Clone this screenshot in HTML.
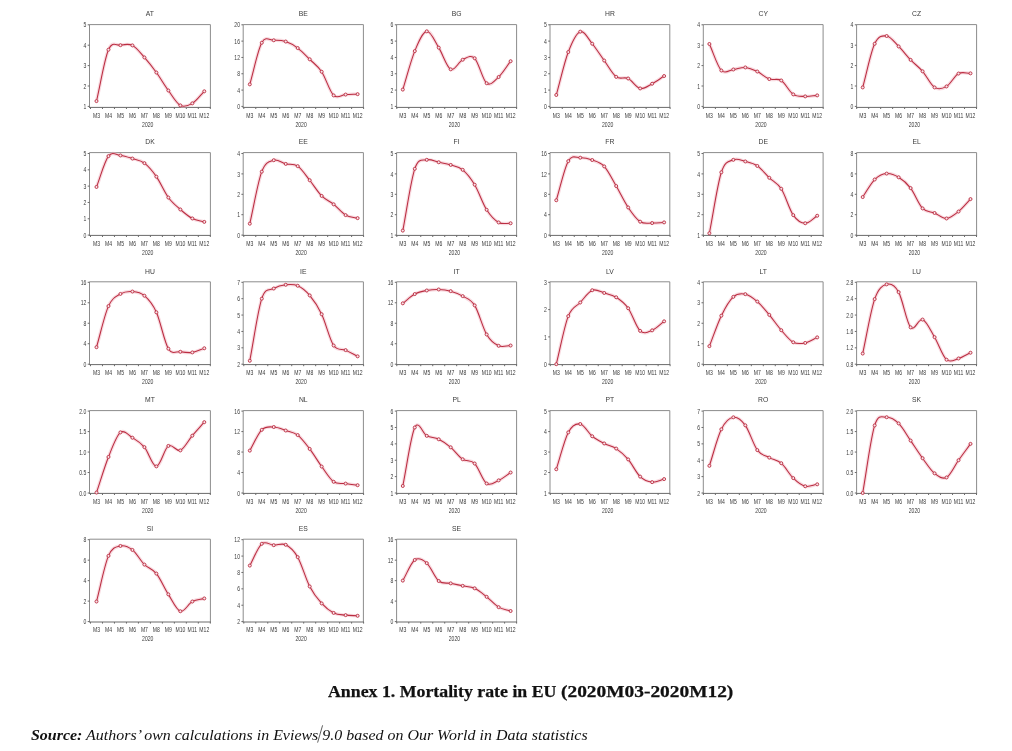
<!DOCTYPE html>
<html lang="en">
<head>
<meta charset="utf-8">
<title>Annex 1. Mortality rate in EU (2020M03-2020M12)</title>
<style>
html,body{margin:0;padding:0;background:#fff;}
body{width:1012px;height:751px;position:relative;overflow:hidden;}
svg.charts{position:absolute;left:0;top:0;filter:blur(.3px);}
svg.charts path{fill:none;stroke-width:1;}
svg.charts .halo{stroke:#f2b6c2;stroke-width:3.4;stroke-linejoin:round;stroke-linecap:round;opacity:.5;}
svg.charts .ln{stroke:#bb2e42;stroke-width:1.05;stroke-linejoin:round;stroke-linecap:round;}
svg.charts circle{fill:#f8e6ea;stroke:#bb2e42;stroke-width:.9;}
svg.charts text{font-family:"Liberation Sans",Arial,sans-serif;fill:#3a3a3a;stroke:none;}
svg.charts .t{font-size:6.8px;text-anchor:middle;stroke-width:0;}
svg.charts .yl{font-size:6.7px;text-anchor:end;}
svg.charts .xl{font-size:6.7px;text-anchor:middle;}
.cap{position:absolute;left:0;top:0;white-space:nowrap;color:#111;}
.annex{font-family:"Liberation Serif","Times New Roman",serif;font-weight:bold;font-size:16.4px;line-height:18px;top:682.8px;transform-origin:0 0;-webkit-text-stroke:.25px #111;}
#annex1{left:328.2px;transform:scaleX(1.086);}
#annex2{left:560.6px;transform:scaleX(1.183);}
#source{font-family:"Liberation Serif","Times New Roman",serif;font-style:italic;font-size:15.1px;line-height:18px;left:31px;top:726px;transform-origin:0 0;transform:scaleX(1.057);}
</style>
</head>
<body>
<svg class="charts" width="1012" height="751" viewBox="0 0 1012 751">
<g>
<path d="M89.5 24.6H210.4V107.4" stroke="#8c8c8c"/>
<path d="M89.5 24.6V107.4" stroke="#8c8c8c"/>
<path d="M89 107.4H210.9" stroke="#6a6a6a"/>
<path d="M87.7 106.4H89.5M87.7 86H89.5M87.7 65.6H89.5M87.7 45.2H89.5M87.7 24.8H89.5M90.5 107.4V109M102.48 107.4V109M114.46 107.4V109M126.44 107.4V109M138.42 107.4V109M150.4 107.4V109M162.38 107.4V109M174.36 107.4V109M186.34 107.4V109M198.32 107.4V109M210.3 107.4V109" stroke="#6a6a6a"/>
<text class="t" x="149.95" y="16.3">AT</text>
<text class="yl" transform="translate(86.3 109) scale(0.76 1)">1</text>
<text class="yl" transform="translate(86.3 88.6) scale(0.76 1)">2</text>
<text class="yl" transform="translate(86.3 68.2) scale(0.76 1)">3</text>
<text class="yl" transform="translate(86.3 47.8) scale(0.76 1)">4</text>
<text class="yl" transform="translate(86.3 27.4) scale(0.76 1)">5</text>
<text class="xl" transform="translate(96.49 117.7) scale(0.76 1)">M3</text>
<text class="xl" transform="translate(108.47 117.7) scale(0.76 1)">M4</text>
<text class="xl" transform="translate(120.45 117.7) scale(0.76 1)">M5</text>
<text class="xl" transform="translate(132.43 117.7) scale(0.76 1)">M6</text>
<text class="xl" transform="translate(144.41 117.7) scale(0.76 1)">M7</text>
<text class="xl" transform="translate(156.39 117.7) scale(0.76 1)">M8</text>
<text class="xl" transform="translate(168.37 117.7) scale(0.76 1)">M9</text>
<text class="xl" transform="translate(180.35 117.7) scale(0.76 1)">M10</text>
<text class="xl" transform="translate(192.33 117.7) scale(0.76 1)">M11</text>
<text class="xl" transform="translate(204.31 117.7) scale(0.76 1)">M12</text>
<text class="xl" transform="translate(147.75 126.5) scale(0.76 1)">2020</text>
<path class="halo" d="M96.49 101.1C100.48 83.96 104.48 59 108.47 49.69C112.46 40.37 116.46 45.91 120.45 45.2C124.44 44.49 128.44 43.36 132.43 45.4C136.42 47.44 140.42 52.92 144.41 57.44C148.4 61.96 152.4 67.03 156.39 72.54C160.38 78.04 164.38 85.01 168.37 90.49C172.36 95.96 176.36 103.24 180.35 105.38C184.34 107.52 188.34 105.69 192.33 103.34C196.32 100.99 200.32 95.32 204.31 91.3"/>
<path class="ln" d="M96.49 101.1C100.48 83.96 104.48 59 108.47 49.69C112.46 40.37 116.46 45.91 120.45 45.2C124.44 44.49 128.44 43.36 132.43 45.4C136.42 47.44 140.42 52.92 144.41 57.44C148.4 61.96 152.4 67.03 156.39 72.54C160.38 78.04 164.38 85.01 168.37 90.49C172.36 95.96 176.36 103.24 180.35 105.38C184.34 107.52 188.34 105.69 192.33 103.34C196.32 100.99 200.32 95.32 204.31 91.3"/>
<circle cx="96.49" cy="101.1" r="1.5"/>
<circle cx="108.47" cy="49.69" r="1.5"/>
<circle cx="120.45" cy="45.2" r="1.5"/>
<circle cx="132.43" cy="45.4" r="1.5"/>
<circle cx="144.41" cy="57.44" r="1.5"/>
<circle cx="156.39" cy="72.54" r="1.5"/>
<circle cx="168.37" cy="90.49" r="1.5"/>
<circle cx="180.35" cy="105.38" r="1.5"/>
<circle cx="192.33" cy="103.34" r="1.5"/>
<circle cx="204.31" cy="91.3" r="1.5"/>
</g>
<g>
<path d="M243.2 24.6H363.4V107.4" stroke="#8c8c8c"/>
<path d="M243.2 24.6V107.4" stroke="#8c8c8c"/>
<path d="M242.7 107.4H363.9" stroke="#6a6a6a"/>
<path d="M241.4 106.4H243.2M241.4 90.08H243.2M241.4 73.76H243.2M241.4 57.44H243.2M241.4 41.12H243.2M241.4 24.8H243.2M243.8 107.4V109M255.78 107.4V109M267.76 107.4V109M279.74 107.4V109M291.72 107.4V109M303.7 107.4V109M315.68 107.4V109M327.66 107.4V109M339.64 107.4V109M351.62 107.4V109M363.6 107.4V109" stroke="#6a6a6a"/>
<text class="t" x="303.3" y="16.3">BE</text>
<text class="yl" transform="translate(240 109) scale(0.76 1)">0</text>
<text class="yl" transform="translate(240 92.68) scale(0.76 1)">4</text>
<text class="yl" transform="translate(240 76.36) scale(0.76 1)">8</text>
<text class="yl" transform="translate(240 60.04) scale(0.76 1)">12</text>
<text class="yl" transform="translate(240 43.72) scale(0.76 1)">16</text>
<text class="yl" transform="translate(240 27.4) scale(0.76 1)">20</text>
<text class="xl" transform="translate(249.79 117.7) scale(0.76 1)">M3</text>
<text class="xl" transform="translate(261.77 117.7) scale(0.76 1)">M4</text>
<text class="xl" transform="translate(273.75 117.7) scale(0.76 1)">M5</text>
<text class="xl" transform="translate(285.73 117.7) scale(0.76 1)">M6</text>
<text class="xl" transform="translate(297.71 117.7) scale(0.76 1)">M7</text>
<text class="xl" transform="translate(309.69 117.7) scale(0.76 1)">M8</text>
<text class="xl" transform="translate(321.67 117.7) scale(0.76 1)">M9</text>
<text class="xl" transform="translate(333.65 117.7) scale(0.76 1)">M10</text>
<text class="xl" transform="translate(345.63 117.7) scale(0.76 1)">M11</text>
<text class="xl" transform="translate(357.61 117.7) scale(0.76 1)">M12</text>
<text class="xl" transform="translate(301.1 126.5) scale(0.76 1)">2020</text>
<path class="halo" d="M249.79 84.37C253.78 70.5 257.78 50.1 261.77 42.75C265.76 35.41 269.76 40.51 273.75 40.3C277.74 40.1 281.74 40.24 285.73 41.53C289.72 42.82 293.72 45.1 297.71 48.06C301.7 51.01 305.7 55.33 309.69 59.28C313.68 63.22 317.68 65.7 321.67 71.72C325.66 77.74 329.66 91.58 333.65 95.38C337.64 99.19 341.64 94.77 345.63 94.57C349.62 94.36 353.62 94.3 357.61 94.16"/>
<path class="ln" d="M249.79 84.37C253.78 70.5 257.78 50.1 261.77 42.75C265.76 35.41 269.76 40.51 273.75 40.3C277.74 40.1 281.74 40.24 285.73 41.53C289.72 42.82 293.72 45.1 297.71 48.06C301.7 51.01 305.7 55.33 309.69 59.28C313.68 63.22 317.68 65.7 321.67 71.72C325.66 77.74 329.66 91.58 333.65 95.38C337.64 99.19 341.64 94.77 345.63 94.57C349.62 94.36 353.62 94.3 357.61 94.16"/>
<circle cx="249.79" cy="84.37" r="1.5"/>
<circle cx="261.77" cy="42.75" r="1.5"/>
<circle cx="273.75" cy="40.3" r="1.5"/>
<circle cx="285.73" cy="41.53" r="1.5"/>
<circle cx="297.71" cy="48.06" r="1.5"/>
<circle cx="309.69" cy="59.28" r="1.5"/>
<circle cx="321.67" cy="71.72" r="1.5"/>
<circle cx="333.65" cy="95.38" r="1.5"/>
<circle cx="345.63" cy="94.57" r="1.5"/>
<circle cx="357.61" cy="94.16" r="1.5"/>
</g>
<g>
<path d="M396.6 24.6H516.6V107.4" stroke="#8c8c8c"/>
<path d="M396.6 24.6V107.4" stroke="#8c8c8c"/>
<path d="M396.1 107.4H517.1" stroke="#6a6a6a"/>
<path d="M394.8 106.4H396.6M394.8 90.08H396.6M394.8 73.76H396.6M394.8 57.44H396.6M394.8 41.12H396.6M394.8 24.8H396.6M396.8 107.4V109M408.78 107.4V109M420.76 107.4V109M432.74 107.4V109M444.72 107.4V109M456.7 107.4V109M468.68 107.4V109M480.66 107.4V109M492.64 107.4V109M504.62 107.4V109M516.6 107.4V109" stroke="#6a6a6a"/>
<text class="t" x="456.6" y="16.3">BG</text>
<text class="yl" transform="translate(393.4 109) scale(0.76 1)">1</text>
<text class="yl" transform="translate(393.4 92.68) scale(0.76 1)">2</text>
<text class="yl" transform="translate(393.4 76.36) scale(0.76 1)">3</text>
<text class="yl" transform="translate(393.4 60.04) scale(0.76 1)">4</text>
<text class="yl" transform="translate(393.4 43.72) scale(0.76 1)">5</text>
<text class="yl" transform="translate(393.4 27.4) scale(0.76 1)">6</text>
<text class="xl" transform="translate(402.79 117.7) scale(0.76 1)">M3</text>
<text class="xl" transform="translate(414.77 117.7) scale(0.76 1)">M4</text>
<text class="xl" transform="translate(426.75 117.7) scale(0.76 1)">M5</text>
<text class="xl" transform="translate(438.73 117.7) scale(0.76 1)">M6</text>
<text class="xl" transform="translate(450.71 117.7) scale(0.76 1)">M7</text>
<text class="xl" transform="translate(462.69 117.7) scale(0.76 1)">M8</text>
<text class="xl" transform="translate(474.67 117.7) scale(0.76 1)">M9</text>
<text class="xl" transform="translate(486.65 117.7) scale(0.76 1)">M10</text>
<text class="xl" transform="translate(498.63 117.7) scale(0.76 1)">M11</text>
<text class="xl" transform="translate(510.61 117.7) scale(0.76 1)">M12</text>
<text class="xl" transform="translate(454.4 126.5) scale(0.76 1)">2020</text>
<path class="halo" d="M402.79 89.59C406.78 76.75 410.78 60.79 414.77 51.08C418.76 41.36 422.76 31.9 426.75 31.33C430.74 30.76 434.74 41.31 438.73 47.65C442.72 53.99 446.72 67.34 450.71 69.35C454.7 71.37 458.7 61.57 462.69 59.72C466.68 57.88 470.68 54.34 474.67 58.26C478.66 62.17 482.66 80.1 486.65 83.23C490.64 86.35 494.64 80.7 498.63 77.02C502.62 73.35 506.62 66.47 510.61 61.19"/>
<path class="ln" d="M402.79 89.59C406.78 76.75 410.78 60.79 414.77 51.08C418.76 41.36 422.76 31.9 426.75 31.33C430.74 30.76 434.74 41.31 438.73 47.65C442.72 53.99 446.72 67.34 450.71 69.35C454.7 71.37 458.7 61.57 462.69 59.72C466.68 57.88 470.68 54.34 474.67 58.26C478.66 62.17 482.66 80.1 486.65 83.23C490.64 86.35 494.64 80.7 498.63 77.02C502.62 73.35 506.62 66.47 510.61 61.19"/>
<circle cx="402.79" cy="89.59" r="1.5"/>
<circle cx="414.77" cy="51.08" r="1.5"/>
<circle cx="426.75" cy="31.33" r="1.5"/>
<circle cx="438.73" cy="47.65" r="1.5"/>
<circle cx="450.71" cy="69.35" r="1.5"/>
<circle cx="462.69" cy="59.72" r="1.5"/>
<circle cx="474.67" cy="58.26" r="1.5"/>
<circle cx="486.65" cy="83.23" r="1.5"/>
<circle cx="498.63" cy="77.02" r="1.5"/>
<circle cx="510.61" cy="61.19" r="1.5"/>
</g>
<g>
<path d="M550 24.6H669.8V107.4" stroke="#8c8c8c"/>
<path d="M550 24.6V107.4" stroke="#8c8c8c"/>
<path d="M549.5 107.4H670.3" stroke="#6a6a6a"/>
<path d="M548.2 106.4H550M548.2 90.08H550M548.2 73.76H550M548.2 57.44H550M548.2 41.12H550M548.2 24.8H550M550.3 107.4V109M562.28 107.4V109M574.26 107.4V109M586.24 107.4V109M598.22 107.4V109M610.2 107.4V109M622.18 107.4V109M634.16 107.4V109M646.14 107.4V109M658.12 107.4V109M670.1 107.4V109" stroke="#6a6a6a"/>
<text class="t" x="609.9" y="16.3">HR</text>
<text class="yl" transform="translate(546.8 109) scale(0.76 1)">0</text>
<text class="yl" transform="translate(546.8 92.68) scale(0.76 1)">1</text>
<text class="yl" transform="translate(546.8 76.36) scale(0.76 1)">2</text>
<text class="yl" transform="translate(546.8 60.04) scale(0.76 1)">3</text>
<text class="yl" transform="translate(546.8 43.72) scale(0.76 1)">4</text>
<text class="yl" transform="translate(546.8 27.4) scale(0.76 1)">5</text>
<text class="xl" transform="translate(556.29 117.7) scale(0.76 1)">M3</text>
<text class="xl" transform="translate(568.27 117.7) scale(0.76 1)">M4</text>
<text class="xl" transform="translate(580.25 117.7) scale(0.76 1)">M5</text>
<text class="xl" transform="translate(592.23 117.7) scale(0.76 1)">M6</text>
<text class="xl" transform="translate(604.21 117.7) scale(0.76 1)">M7</text>
<text class="xl" transform="translate(616.19 117.7) scale(0.76 1)">M8</text>
<text class="xl" transform="translate(628.17 117.7) scale(0.76 1)">M9</text>
<text class="xl" transform="translate(640.15 117.7) scale(0.76 1)">M10</text>
<text class="xl" transform="translate(652.13 117.7) scale(0.76 1)">M11</text>
<text class="xl" transform="translate(664.11 117.7) scale(0.76 1)">M12</text>
<text class="xl" transform="translate(607.7 126.5) scale(0.76 1)">2020</text>
<path class="halo" d="M556.29 94.98C560.28 80.67 564.28 62.61 568.27 52.05C572.26 41.5 576.26 33.04 580.25 31.65C584.24 30.27 588.24 38.92 592.23 43.73C596.22 48.55 600.22 55.02 604.21 60.54C608.2 66.06 612.2 73.87 616.19 76.86C620.18 79.85 624.18 76.56 628.17 78.49C632.16 80.42 636.16 87.58 640.15 88.45C644.14 89.32 648.14 85.78 652.13 83.72C656.12 81.65 660.12 78.6 664.11 76.04"/>
<path class="ln" d="M556.29 94.98C560.28 80.67 564.28 62.61 568.27 52.05C572.26 41.5 576.26 33.04 580.25 31.65C584.24 30.27 588.24 38.92 592.23 43.73C596.22 48.55 600.22 55.02 604.21 60.54C608.2 66.06 612.2 73.87 616.19 76.86C620.18 79.85 624.18 76.56 628.17 78.49C632.16 80.42 636.16 87.58 640.15 88.45C644.14 89.32 648.14 85.78 652.13 83.72C656.12 81.65 660.12 78.6 664.11 76.04"/>
<circle cx="556.29" cy="94.98" r="1.5"/>
<circle cx="568.27" cy="52.05" r="1.5"/>
<circle cx="580.25" cy="31.65" r="1.5"/>
<circle cx="592.23" cy="43.73" r="1.5"/>
<circle cx="604.21" cy="60.54" r="1.5"/>
<circle cx="616.19" cy="76.86" r="1.5"/>
<circle cx="628.17" cy="78.49" r="1.5"/>
<circle cx="640.15" cy="88.45" r="1.5"/>
<circle cx="652.13" cy="83.72" r="1.5"/>
<circle cx="664.11" cy="76.04" r="1.5"/>
</g>
<g>
<path d="M703.3 24.6H823.1V107.4" stroke="#8c8c8c"/>
<path d="M703.3 24.6V107.4" stroke="#8c8c8c"/>
<path d="M702.8 107.4H823.6" stroke="#6a6a6a"/>
<path d="M701.5 106.4H703.3M701.5 86H703.3M701.5 65.6H703.3M701.5 45.2H703.3M701.5 24.8H703.3M703.4 107.4V109M715.38 107.4V109M727.36 107.4V109M739.34 107.4V109M751.32 107.4V109M763.3 107.4V109M775.28 107.4V109M787.26 107.4V109M799.24 107.4V109M811.22 107.4V109M823.2 107.4V109" stroke="#6a6a6a"/>
<text class="t" x="763.2" y="16.3">CY</text>
<text class="yl" transform="translate(700.1 109) scale(0.76 1)">0</text>
<text class="yl" transform="translate(700.1 88.6) scale(0.76 1)">1</text>
<text class="yl" transform="translate(700.1 68.2) scale(0.76 1)">2</text>
<text class="yl" transform="translate(700.1 47.8) scale(0.76 1)">3</text>
<text class="yl" transform="translate(700.1 27.4) scale(0.76 1)">4</text>
<text class="xl" transform="translate(709.39 117.7) scale(0.76 1)">M3</text>
<text class="xl" transform="translate(721.37 117.7) scale(0.76 1)">M4</text>
<text class="xl" transform="translate(733.35 117.7) scale(0.76 1)">M5</text>
<text class="xl" transform="translate(745.33 117.7) scale(0.76 1)">M6</text>
<text class="xl" transform="translate(757.31 117.7) scale(0.76 1)">M7</text>
<text class="xl" transform="translate(769.29 117.7) scale(0.76 1)">M8</text>
<text class="xl" transform="translate(781.27 117.7) scale(0.76 1)">M9</text>
<text class="xl" transform="translate(793.25 117.7) scale(0.76 1)">M10</text>
<text class="xl" transform="translate(805.23 117.7) scale(0.76 1)">M11</text>
<text class="xl" transform="translate(817.21 117.7) scale(0.76 1)">M12</text>
<text class="xl" transform="translate(761 126.5) scale(0.76 1)">2020</text>
<path class="halo" d="M709.39 43.98C713.38 52.82 717.38 66.25 721.37 70.5C725.36 74.75 729.36 69.99 733.35 69.48C737.34 68.97 741.34 67.1 745.33 67.44C749.32 67.78 753.32 69.58 757.31 71.52C761.3 73.45 765.3 77.57 769.29 79.06C773.28 80.56 777.28 77.94 781.27 80.49C785.26 83.04 789.26 91.71 793.25 94.36C797.24 97.02 801.24 96.23 805.23 96.4C809.22 96.57 813.22 95.72 817.21 95.38"/>
<path class="ln" d="M709.39 43.98C713.38 52.82 717.38 66.25 721.37 70.5C725.36 74.75 729.36 69.99 733.35 69.48C737.34 68.97 741.34 67.1 745.33 67.44C749.32 67.78 753.32 69.58 757.31 71.52C761.3 73.45 765.3 77.57 769.29 79.06C773.28 80.56 777.28 77.94 781.27 80.49C785.26 83.04 789.26 91.71 793.25 94.36C797.24 97.02 801.24 96.23 805.23 96.4C809.22 96.57 813.22 95.72 817.21 95.38"/>
<circle cx="709.39" cy="43.98" r="1.5"/>
<circle cx="721.37" cy="70.5" r="1.5"/>
<circle cx="733.35" cy="69.48" r="1.5"/>
<circle cx="745.33" cy="67.44" r="1.5"/>
<circle cx="757.31" cy="71.52" r="1.5"/>
<circle cx="769.29" cy="79.06" r="1.5"/>
<circle cx="781.27" cy="80.49" r="1.5"/>
<circle cx="793.25" cy="94.36" r="1.5"/>
<circle cx="805.23" cy="96.4" r="1.5"/>
<circle cx="817.21" cy="95.38" r="1.5"/>
</g>
<g>
<path d="M856.6 24.6H976.6V107.4" stroke="#8c8c8c"/>
<path d="M856.6 24.6V107.4" stroke="#8c8c8c"/>
<path d="M856.1 107.4H977.1" stroke="#6a6a6a"/>
<path d="M854.8 106.4H856.6M854.8 86H856.6M854.8 65.6H856.6M854.8 45.2H856.6M854.8 24.8H856.6M856.7 107.4V109M868.68 107.4V109M880.66 107.4V109M892.64 107.4V109M904.62 107.4V109M916.6 107.4V109M928.58 107.4V109M940.56 107.4V109M952.54 107.4V109M964.52 107.4V109M976.5 107.4V109" stroke="#6a6a6a"/>
<text class="t" x="916.6" y="16.3">CZ</text>
<text class="yl" transform="translate(853.4 109) scale(0.76 1)">0</text>
<text class="yl" transform="translate(853.4 88.6) scale(0.76 1)">1</text>
<text class="yl" transform="translate(853.4 68.2) scale(0.76 1)">2</text>
<text class="yl" transform="translate(853.4 47.8) scale(0.76 1)">3</text>
<text class="yl" transform="translate(853.4 27.4) scale(0.76 1)">4</text>
<text class="xl" transform="translate(862.69 117.7) scale(0.76 1)">M3</text>
<text class="xl" transform="translate(874.67 117.7) scale(0.76 1)">M4</text>
<text class="xl" transform="translate(886.65 117.7) scale(0.76 1)">M5</text>
<text class="xl" transform="translate(898.63 117.7) scale(0.76 1)">M6</text>
<text class="xl" transform="translate(910.61 117.7) scale(0.76 1)">M7</text>
<text class="xl" transform="translate(922.59 117.7) scale(0.76 1)">M8</text>
<text class="xl" transform="translate(934.57 117.7) scale(0.76 1)">M9</text>
<text class="xl" transform="translate(946.55 117.7) scale(0.76 1)">M10</text>
<text class="xl" transform="translate(958.53 117.7) scale(0.76 1)">M11</text>
<text class="xl" transform="translate(970.51 117.7) scale(0.76 1)">M12</text>
<text class="xl" transform="translate(914.4 126.5) scale(0.76 1)">2020</text>
<path class="halo" d="M862.69 87.43C866.68 72.88 870.68 52.34 874.67 43.77C878.66 35.2 882.66 35.58 886.65 36.02C890.64 36.46 894.64 42.45 898.63 46.42C902.62 50.4 906.62 55.74 910.61 59.89C914.6 64.04 918.6 66.72 922.59 71.31C926.58 75.9 930.58 84.91 934.57 87.43C938.56 89.94 942.56 88.72 946.55 86.41C950.54 84.1 954.54 75.73 958.53 73.56C962.52 71.38 966.52 73.42 970.51 73.35"/>
<path class="ln" d="M862.69 87.43C866.68 72.88 870.68 52.34 874.67 43.77C878.66 35.2 882.66 35.58 886.65 36.02C890.64 36.46 894.64 42.45 898.63 46.42C902.62 50.4 906.62 55.74 910.61 59.89C914.6 64.04 918.6 66.72 922.59 71.31C926.58 75.9 930.58 84.91 934.57 87.43C938.56 89.94 942.56 88.72 946.55 86.41C950.54 84.1 954.54 75.73 958.53 73.56C962.52 71.38 966.52 73.42 970.51 73.35"/>
<circle cx="862.69" cy="87.43" r="1.5"/>
<circle cx="874.67" cy="43.77" r="1.5"/>
<circle cx="886.65" cy="36.02" r="1.5"/>
<circle cx="898.63" cy="46.42" r="1.5"/>
<circle cx="910.61" cy="59.89" r="1.5"/>
<circle cx="922.59" cy="71.31" r="1.5"/>
<circle cx="934.57" cy="87.43" r="1.5"/>
<circle cx="946.55" cy="86.41" r="1.5"/>
<circle cx="958.53" cy="73.56" r="1.5"/>
<circle cx="970.51" cy="73.35" r="1.5"/>
</g>
<g>
<path d="M89.5 152.6H210.4V235.4" stroke="#8c8c8c"/>
<path d="M89.5 152.6V235.4" stroke="#8c8c8c"/>
<path d="M89 235.4H210.9" stroke="#6a6a6a"/>
<path d="M87.7 235.1H89.5M87.7 218.78H89.5M87.7 202.46H89.5M87.7 186.14H89.5M87.7 169.82H89.5M87.7 153.5H89.5M90.5 235.4V237M102.48 235.4V237M114.46 235.4V237M126.44 235.4V237M138.42 235.4V237M150.4 235.4V237M162.38 235.4V237M174.36 235.4V237M186.34 235.4V237M198.32 235.4V237M210.3 235.4V237" stroke="#6a6a6a"/>
<text class="t" x="149.95" y="144.3">DK</text>
<text class="yl" transform="translate(86.3 237.7) scale(0.76 1)">0</text>
<text class="yl" transform="translate(86.3 221.38) scale(0.76 1)">1</text>
<text class="yl" transform="translate(86.3 205.06) scale(0.76 1)">2</text>
<text class="yl" transform="translate(86.3 188.74) scale(0.76 1)">3</text>
<text class="yl" transform="translate(86.3 172.42) scale(0.76 1)">4</text>
<text class="yl" transform="translate(86.3 156.1) scale(0.76 1)">5</text>
<text class="xl" transform="translate(96.49 245.7) scale(0.76 1)">M3</text>
<text class="xl" transform="translate(108.47 245.7) scale(0.76 1)">M4</text>
<text class="xl" transform="translate(120.45 245.7) scale(0.76 1)">M5</text>
<text class="xl" transform="translate(132.43 245.7) scale(0.76 1)">M6</text>
<text class="xl" transform="translate(144.41 245.7) scale(0.76 1)">M7</text>
<text class="xl" transform="translate(156.39 245.7) scale(0.76 1)">M8</text>
<text class="xl" transform="translate(168.37 245.7) scale(0.76 1)">M9</text>
<text class="xl" transform="translate(180.35 245.7) scale(0.76 1)">M10</text>
<text class="xl" transform="translate(192.33 245.7) scale(0.76 1)">M11</text>
<text class="xl" transform="translate(204.31 245.7) scale(0.76 1)">M12</text>
<text class="xl" transform="translate(147.75 254.5) scale(0.76 1)">2020</text>
<path class="halo" d="M96.49 186.96C100.48 176.67 104.48 161.36 108.47 156.11C112.46 150.86 116.46 155.05 120.45 155.46C124.44 155.87 128.44 157.28 132.43 158.56C136.42 159.84 140.42 160.11 144.41 163.13C148.4 166.15 152.4 170.94 156.39 176.67C160.38 182.41 164.38 192.1 168.37 197.56C172.36 203.03 176.36 206 180.35 209.48C184.34 212.96 188.34 216.39 192.33 218.45C196.32 220.52 200.32 220.74 204.31 221.88"/>
<path class="ln" d="M96.49 186.96C100.48 176.67 104.48 161.36 108.47 156.11C112.46 150.86 116.46 155.05 120.45 155.46C124.44 155.87 128.44 157.28 132.43 158.56C136.42 159.84 140.42 160.11 144.41 163.13C148.4 166.15 152.4 170.94 156.39 176.67C160.38 182.41 164.38 192.1 168.37 197.56C172.36 203.03 176.36 206 180.35 209.48C184.34 212.96 188.34 216.39 192.33 218.45C196.32 220.52 200.32 220.74 204.31 221.88"/>
<circle cx="96.49" cy="186.96" r="1.5"/>
<circle cx="108.47" cy="156.11" r="1.5"/>
<circle cx="120.45" cy="155.46" r="1.5"/>
<circle cx="132.43" cy="158.56" r="1.5"/>
<circle cx="144.41" cy="163.13" r="1.5"/>
<circle cx="156.39" cy="176.67" r="1.5"/>
<circle cx="168.37" cy="197.56" r="1.5"/>
<circle cx="180.35" cy="209.48" r="1.5"/>
<circle cx="192.33" cy="218.45" r="1.5"/>
<circle cx="204.31" cy="221.88" r="1.5"/>
</g>
<g>
<path d="M243.2 152.6H363.4V235.4" stroke="#8c8c8c"/>
<path d="M243.2 152.6V235.4" stroke="#8c8c8c"/>
<path d="M242.7 235.4H363.9" stroke="#6a6a6a"/>
<path d="M241.4 235.1H243.2M241.4 214.7H243.2M241.4 194.3H243.2M241.4 173.9H243.2M241.4 153.5H243.2M243.8 235.4V237M255.78 235.4V237M267.76 235.4V237M279.74 235.4V237M291.72 235.4V237M303.7 235.4V237M315.68 235.4V237M327.66 235.4V237M339.64 235.4V237M351.62 235.4V237M363.6 235.4V237" stroke="#6a6a6a"/>
<text class="t" x="303.3" y="144.3">EE</text>
<text class="yl" transform="translate(240 237.7) scale(0.76 1)">0</text>
<text class="yl" transform="translate(240 217.3) scale(0.76 1)">1</text>
<text class="yl" transform="translate(240 196.9) scale(0.76 1)">2</text>
<text class="yl" transform="translate(240 176.5) scale(0.76 1)">3</text>
<text class="yl" transform="translate(240 156.1) scale(0.76 1)">4</text>
<text class="xl" transform="translate(249.79 245.7) scale(0.76 1)">M3</text>
<text class="xl" transform="translate(261.77 245.7) scale(0.76 1)">M4</text>
<text class="xl" transform="translate(273.75 245.7) scale(0.76 1)">M5</text>
<text class="xl" transform="translate(285.73 245.7) scale(0.76 1)">M6</text>
<text class="xl" transform="translate(297.71 245.7) scale(0.76 1)">M7</text>
<text class="xl" transform="translate(309.69 245.7) scale(0.76 1)">M8</text>
<text class="xl" transform="translate(321.67 245.7) scale(0.76 1)">M9</text>
<text class="xl" transform="translate(333.65 245.7) scale(0.76 1)">M10</text>
<text class="xl" transform="translate(345.63 245.7) scale(0.76 1)">M11</text>
<text class="xl" transform="translate(357.61 245.7) scale(0.76 1)">M12</text>
<text class="xl" transform="translate(301.1 254.5) scale(0.76 1)">2020</text>
<path class="halo" d="M249.79 223.68C253.78 206.34 257.78 182.23 261.77 171.66C265.76 161.08 269.76 161.52 273.75 160.23C277.74 158.94 281.74 162.92 285.73 163.9C289.72 164.89 293.72 163.43 297.71 166.15C301.7 168.87 305.7 175.26 309.69 180.22C313.68 185.19 317.68 191.92 321.67 195.93C325.66 199.94 329.66 201.1 333.65 204.3C337.64 207.49 341.64 212.8 345.63 215.11C349.62 217.42 353.62 217.15 357.61 218.17"/>
<path class="ln" d="M249.79 223.68C253.78 206.34 257.78 182.23 261.77 171.66C265.76 161.08 269.76 161.52 273.75 160.23C277.74 158.94 281.74 162.92 285.73 163.9C289.72 164.89 293.72 163.43 297.71 166.15C301.7 168.87 305.7 175.26 309.69 180.22C313.68 185.19 317.68 191.92 321.67 195.93C325.66 199.94 329.66 201.1 333.65 204.3C337.64 207.49 341.64 212.8 345.63 215.11C349.62 217.42 353.62 217.15 357.61 218.17"/>
<circle cx="249.79" cy="223.68" r="1.5"/>
<circle cx="261.77" cy="171.66" r="1.5"/>
<circle cx="273.75" cy="160.23" r="1.5"/>
<circle cx="285.73" cy="163.9" r="1.5"/>
<circle cx="297.71" cy="166.15" r="1.5"/>
<circle cx="309.69" cy="180.22" r="1.5"/>
<circle cx="321.67" cy="195.93" r="1.5"/>
<circle cx="333.65" cy="204.3" r="1.5"/>
<circle cx="345.63" cy="215.11" r="1.5"/>
<circle cx="357.61" cy="218.17" r="1.5"/>
</g>
<g>
<path d="M396.6 152.6H516.6V235.4" stroke="#8c8c8c"/>
<path d="M396.6 152.6V235.4" stroke="#8c8c8c"/>
<path d="M396.1 235.4H517.1" stroke="#6a6a6a"/>
<path d="M394.8 235.1H396.6M394.8 214.7H396.6M394.8 194.3H396.6M394.8 173.9H396.6M394.8 153.5H396.6M396.8 235.4V237M408.78 235.4V237M420.76 235.4V237M432.74 235.4V237M444.72 235.4V237M456.7 235.4V237M468.68 235.4V237M480.66 235.4V237M492.64 235.4V237M504.62 235.4V237M516.6 235.4V237" stroke="#6a6a6a"/>
<text class="t" x="456.6" y="144.3">FI</text>
<text class="yl" transform="translate(393.4 237.7) scale(0.76 1)">1</text>
<text class="yl" transform="translate(393.4 217.3) scale(0.76 1)">2</text>
<text class="yl" transform="translate(393.4 196.9) scale(0.76 1)">3</text>
<text class="yl" transform="translate(393.4 176.5) scale(0.76 1)">4</text>
<text class="yl" transform="translate(393.4 156.1) scale(0.76 1)">5</text>
<text class="xl" transform="translate(402.79 245.7) scale(0.76 1)">M3</text>
<text class="xl" transform="translate(414.77 245.7) scale(0.76 1)">M4</text>
<text class="xl" transform="translate(426.75 245.7) scale(0.76 1)">M5</text>
<text class="xl" transform="translate(438.73 245.7) scale(0.76 1)">M6</text>
<text class="xl" transform="translate(450.71 245.7) scale(0.76 1)">M7</text>
<text class="xl" transform="translate(462.69 245.7) scale(0.76 1)">M8</text>
<text class="xl" transform="translate(474.67 245.7) scale(0.76 1)">M9</text>
<text class="xl" transform="translate(486.65 245.7) scale(0.76 1)">M10</text>
<text class="xl" transform="translate(498.63 245.7) scale(0.76 1)">M11</text>
<text class="xl" transform="translate(510.61 245.7) scale(0.76 1)">M12</text>
<text class="xl" transform="translate(454.4 254.5) scale(0.76 1)">2020</text>
<path class="halo" d="M402.79 230.61C406.78 210.01 410.78 180.6 414.77 168.8C418.76 157 422.76 160.91 426.75 159.82C430.74 158.74 434.74 161.42 438.73 162.27C442.72 163.12 446.72 163.67 450.71 164.92C454.7 166.18 458.7 166.52 462.69 169.82C466.68 173.12 470.68 178.05 474.67 184.71C478.66 191.38 482.66 203.51 486.65 209.8C490.64 216.09 494.64 220.21 498.63 222.45C502.62 224.7 506.62 223 510.61 223.27"/>
<path class="ln" d="M402.79 230.61C406.78 210.01 410.78 180.6 414.77 168.8C418.76 157 422.76 160.91 426.75 159.82C430.74 158.74 434.74 161.42 438.73 162.27C442.72 163.12 446.72 163.67 450.71 164.92C454.7 166.18 458.7 166.52 462.69 169.82C466.68 173.12 470.68 178.05 474.67 184.71C478.66 191.38 482.66 203.51 486.65 209.8C490.64 216.09 494.64 220.21 498.63 222.45C502.62 224.7 506.62 223 510.61 223.27"/>
<circle cx="402.79" cy="230.61" r="1.5"/>
<circle cx="414.77" cy="168.8" r="1.5"/>
<circle cx="426.75" cy="159.82" r="1.5"/>
<circle cx="438.73" cy="162.27" r="1.5"/>
<circle cx="450.71" cy="164.92" r="1.5"/>
<circle cx="462.69" cy="169.82" r="1.5"/>
<circle cx="474.67" cy="184.71" r="1.5"/>
<circle cx="486.65" cy="209.8" r="1.5"/>
<circle cx="498.63" cy="222.45" r="1.5"/>
<circle cx="510.61" cy="223.27" r="1.5"/>
</g>
<g>
<path d="M550 152.6H669.8V235.4" stroke="#8c8c8c"/>
<path d="M550 152.6V235.4" stroke="#8c8c8c"/>
<path d="M549.5 235.4H670.3" stroke="#6a6a6a"/>
<path d="M548.2 235.1H550M548.2 214.7H550M548.2 194.3H550M548.2 173.9H550M548.2 153.5H550M550.3 235.4V237M562.28 235.4V237M574.26 235.4V237M586.24 235.4V237M598.22 235.4V237M610.2 235.4V237M622.18 235.4V237M634.16 235.4V237M646.14 235.4V237M658.12 235.4V237M670.1 235.4V237" stroke="#6a6a6a"/>
<text class="t" x="609.9" y="144.3">FR</text>
<text class="yl" transform="translate(546.8 237.7) scale(0.76 1)">0</text>
<text class="yl" transform="translate(546.8 217.3) scale(0.76 1)">4</text>
<text class="yl" transform="translate(546.8 196.9) scale(0.76 1)">8</text>
<text class="yl" transform="translate(546.8 176.5) scale(0.76 1)">12</text>
<text class="yl" transform="translate(546.8 156.1) scale(0.76 1)">16</text>
<text class="xl" transform="translate(556.29 245.7) scale(0.76 1)">M3</text>
<text class="xl" transform="translate(568.27 245.7) scale(0.76 1)">M4</text>
<text class="xl" transform="translate(580.25 245.7) scale(0.76 1)">M5</text>
<text class="xl" transform="translate(592.23 245.7) scale(0.76 1)">M6</text>
<text class="xl" transform="translate(604.21 245.7) scale(0.76 1)">M7</text>
<text class="xl" transform="translate(616.19 245.7) scale(0.76 1)">M8</text>
<text class="xl" transform="translate(628.17 245.7) scale(0.76 1)">M9</text>
<text class="xl" transform="translate(640.15 245.7) scale(0.76 1)">M10</text>
<text class="xl" transform="translate(652.13 245.7) scale(0.76 1)">M11</text>
<text class="xl" transform="translate(664.11 245.7) scale(0.76 1)">M12</text>
<text class="xl" transform="translate(607.7 254.5) scale(0.76 1)">2020</text>
<path class="halo" d="M556.29 200.27C560.28 187.23 564.28 168.25 568.27 161.15C572.26 154.05 576.26 157.87 580.25 157.68C584.24 157.49 588.24 158.57 592.23 160.03C596.22 161.48 600.22 162.07 604.21 166.4C608.2 170.74 612.2 179.2 616.19 186.04C620.18 192.88 624.18 201.52 628.17 207.46C632.16 213.4 636.16 219.09 640.15 221.69C644.14 224.29 648.14 222.94 652.13 223.06C656.12 223.18 660.12 222.62 664.11 222.4"/>
<path class="ln" d="M556.29 200.27C560.28 187.23 564.28 168.25 568.27 161.15C572.26 154.05 576.26 157.87 580.25 157.68C584.24 157.49 588.24 158.57 592.23 160.03C596.22 161.48 600.22 162.07 604.21 166.4C608.2 170.74 612.2 179.2 616.19 186.04C620.18 192.88 624.18 201.52 628.17 207.46C632.16 213.4 636.16 219.09 640.15 221.69C644.14 224.29 648.14 222.94 652.13 223.06C656.12 223.18 660.12 222.62 664.11 222.4"/>
<circle cx="556.29" cy="200.27" r="1.5"/>
<circle cx="568.27" cy="161.15" r="1.5"/>
<circle cx="580.25" cy="157.68" r="1.5"/>
<circle cx="592.23" cy="160.03" r="1.5"/>
<circle cx="604.21" cy="166.4" r="1.5"/>
<circle cx="616.19" cy="186.04" r="1.5"/>
<circle cx="628.17" cy="207.46" r="1.5"/>
<circle cx="640.15" cy="221.69" r="1.5"/>
<circle cx="652.13" cy="223.06" r="1.5"/>
<circle cx="664.11" cy="222.4" r="1.5"/>
</g>
<g>
<path d="M703.3 152.6H823.1V235.4" stroke="#8c8c8c"/>
<path d="M703.3 152.6V235.4" stroke="#8c8c8c"/>
<path d="M702.8 235.4H823.6" stroke="#6a6a6a"/>
<path d="M701.5 235.1H703.3M701.5 214.7H703.3M701.5 194.3H703.3M701.5 173.9H703.3M701.5 153.5H703.3M703.4 235.4V237M715.38 235.4V237M727.36 235.4V237M739.34 235.4V237M751.32 235.4V237M763.3 235.4V237M775.28 235.4V237M787.26 235.4V237M799.24 235.4V237M811.22 235.4V237M823.2 235.4V237" stroke="#6a6a6a"/>
<text class="t" x="763.2" y="144.3">DE</text>
<text class="yl" transform="translate(700.1 237.7) scale(0.76 1)">1</text>
<text class="yl" transform="translate(700.1 217.3) scale(0.76 1)">2</text>
<text class="yl" transform="translate(700.1 196.9) scale(0.76 1)">3</text>
<text class="yl" transform="translate(700.1 176.5) scale(0.76 1)">4</text>
<text class="yl" transform="translate(700.1 156.1) scale(0.76 1)">5</text>
<text class="xl" transform="translate(709.39 245.7) scale(0.76 1)">M3</text>
<text class="xl" transform="translate(721.37 245.7) scale(0.76 1)">M4</text>
<text class="xl" transform="translate(733.35 245.7) scale(0.76 1)">M5</text>
<text class="xl" transform="translate(745.33 245.7) scale(0.76 1)">M6</text>
<text class="xl" transform="translate(757.31 245.7) scale(0.76 1)">M7</text>
<text class="xl" transform="translate(769.29 245.7) scale(0.76 1)">M8</text>
<text class="xl" transform="translate(781.27 245.7) scale(0.76 1)">M9</text>
<text class="xl" transform="translate(793.25 245.7) scale(0.76 1)">M10</text>
<text class="xl" transform="translate(805.23 245.7) scale(0.76 1)">M11</text>
<text class="xl" transform="translate(817.21 245.7) scale(0.76 1)">M12</text>
<text class="xl" transform="translate(761 254.5) scale(0.76 1)">2020</text>
<path class="halo" d="M709.39 233.26C713.38 212.93 717.38 184.51 721.37 172.27C725.36 160.03 729.36 161.63 733.35 159.82C737.34 158.02 741.34 160.44 745.33 161.46C749.32 162.48 753.32 163.22 757.31 165.94C761.3 168.66 765.3 173.97 769.29 177.78C773.28 181.58 777.28 182.57 781.27 188.79C785.26 195.01 789.26 209.36 793.25 215.11C797.24 220.85 801.24 223.17 805.23 223.27C809.22 223.37 813.22 218.24 817.21 215.72"/>
<path class="ln" d="M709.39 233.26C713.38 212.93 717.38 184.51 721.37 172.27C725.36 160.03 729.36 161.63 733.35 159.82C737.34 158.02 741.34 160.44 745.33 161.46C749.32 162.48 753.32 163.22 757.31 165.94C761.3 168.66 765.3 173.97 769.29 177.78C773.28 181.58 777.28 182.57 781.27 188.79C785.26 195.01 789.26 209.36 793.25 215.11C797.24 220.85 801.24 223.17 805.23 223.27C809.22 223.37 813.22 218.24 817.21 215.72"/>
<circle cx="709.39" cy="233.26" r="1.5"/>
<circle cx="721.37" cy="172.27" r="1.5"/>
<circle cx="733.35" cy="159.82" r="1.5"/>
<circle cx="745.33" cy="161.46" r="1.5"/>
<circle cx="757.31" cy="165.94" r="1.5"/>
<circle cx="769.29" cy="177.78" r="1.5"/>
<circle cx="781.27" cy="188.79" r="1.5"/>
<circle cx="793.25" cy="215.11" r="1.5"/>
<circle cx="805.23" cy="223.27" r="1.5"/>
<circle cx="817.21" cy="215.72" r="1.5"/>
</g>
<g>
<path d="M856.6 152.6H976.6V235.4" stroke="#8c8c8c"/>
<path d="M856.6 152.6V235.4" stroke="#8c8c8c"/>
<path d="M856.1 235.4H977.1" stroke="#6a6a6a"/>
<path d="M854.8 235.1H856.6M854.8 214.7H856.6M854.8 194.3H856.6M854.8 173.9H856.6M854.8 153.5H856.6M856.7 235.4V237M868.68 235.4V237M880.66 235.4V237M892.64 235.4V237M904.62 235.4V237M916.6 235.4V237M928.58 235.4V237M940.56 235.4V237M952.54 235.4V237M964.52 235.4V237M976.5 235.4V237" stroke="#6a6a6a"/>
<text class="t" x="916.6" y="144.3">EL</text>
<text class="yl" transform="translate(853.4 237.7) scale(0.76 1)">0</text>
<text class="yl" transform="translate(853.4 217.3) scale(0.76 1)">2</text>
<text class="yl" transform="translate(853.4 196.9) scale(0.76 1)">4</text>
<text class="yl" transform="translate(853.4 176.5) scale(0.76 1)">6</text>
<text class="yl" transform="translate(853.4 156.1) scale(0.76 1)">8</text>
<text class="xl" transform="translate(862.69 245.7) scale(0.76 1)">M3</text>
<text class="xl" transform="translate(874.67 245.7) scale(0.76 1)">M4</text>
<text class="xl" transform="translate(886.65 245.7) scale(0.76 1)">M5</text>
<text class="xl" transform="translate(898.63 245.7) scale(0.76 1)">M6</text>
<text class="xl" transform="translate(910.61 245.7) scale(0.76 1)">M7</text>
<text class="xl" transform="translate(922.59 245.7) scale(0.76 1)">M8</text>
<text class="xl" transform="translate(934.57 245.7) scale(0.76 1)">M9</text>
<text class="xl" transform="translate(946.55 245.7) scale(0.76 1)">M10</text>
<text class="xl" transform="translate(958.53 245.7) scale(0.76 1)">M11</text>
<text class="xl" transform="translate(970.51 245.7) scale(0.76 1)">M12</text>
<text class="xl" transform="translate(914.4 254.5) scale(0.76 1)">2020</text>
<path class="halo" d="M862.69 197.05C866.68 191.21 870.68 183.42 874.67 179.51C878.66 175.6 882.66 173.97 886.65 173.59C890.64 173.22 894.64 174.85 898.63 177.27C902.62 179.68 906.62 182.89 910.61 188.08C914.6 193.26 918.6 204.23 922.59 208.38C926.58 212.52 930.58 211.28 934.57 212.97C938.56 214.65 942.56 218.71 946.55 218.47C950.54 218.24 954.54 214.77 958.53 211.54C962.52 208.31 966.52 203.24 970.51 199.09"/>
<path class="ln" d="M862.69 197.05C866.68 191.21 870.68 183.42 874.67 179.51C878.66 175.6 882.66 173.97 886.65 173.59C890.64 173.22 894.64 174.85 898.63 177.27C902.62 179.68 906.62 182.89 910.61 188.08C914.6 193.26 918.6 204.23 922.59 208.38C926.58 212.52 930.58 211.28 934.57 212.97C938.56 214.65 942.56 218.71 946.55 218.47C950.54 218.24 954.54 214.77 958.53 211.54C962.52 208.31 966.52 203.24 970.51 199.09"/>
<circle cx="862.69" cy="197.05" r="1.5"/>
<circle cx="874.67" cy="179.51" r="1.5"/>
<circle cx="886.65" cy="173.59" r="1.5"/>
<circle cx="898.63" cy="177.27" r="1.5"/>
<circle cx="910.61" cy="188.08" r="1.5"/>
<circle cx="922.59" cy="208.38" r="1.5"/>
<circle cx="934.57" cy="212.97" r="1.5"/>
<circle cx="946.55" cy="218.47" r="1.5"/>
<circle cx="958.53" cy="211.54" r="1.5"/>
<circle cx="970.51" cy="199.09" r="1.5"/>
</g>
<g>
<path d="M89.5 281.8H210.4V364.6" stroke="#8c8c8c"/>
<path d="M89.5 281.8V364.6" stroke="#8c8c8c"/>
<path d="M89 364.6H210.9" stroke="#6a6a6a"/>
<path d="M87.7 364.2H89.5M87.7 343.73H89.5M87.7 323.25H89.5M87.7 302.78H89.5M87.7 282.3H89.5M90.5 364.6V366.2M102.48 364.6V366.2M114.46 364.6V366.2M126.44 364.6V366.2M138.42 364.6V366.2M150.4 364.6V366.2M162.38 364.6V366.2M174.36 364.6V366.2M186.34 364.6V366.2M198.32 364.6V366.2M210.3 364.6V366.2" stroke="#6a6a6a"/>
<text class="t" x="149.95" y="273.5">HU</text>
<text class="yl" transform="translate(86.3 366.8) scale(0.76 1)">0</text>
<text class="yl" transform="translate(86.3 346.33) scale(0.76 1)">4</text>
<text class="yl" transform="translate(86.3 325.85) scale(0.76 1)">8</text>
<text class="yl" transform="translate(86.3 305.38) scale(0.76 1)">12</text>
<text class="yl" transform="translate(86.3 284.9) scale(0.76 1)">16</text>
<text class="xl" transform="translate(96.49 374.9) scale(0.76 1)">M3</text>
<text class="xl" transform="translate(108.47 374.9) scale(0.76 1)">M4</text>
<text class="xl" transform="translate(120.45 374.9) scale(0.76 1)">M5</text>
<text class="xl" transform="translate(132.43 374.9) scale(0.76 1)">M6</text>
<text class="xl" transform="translate(144.41 374.9) scale(0.76 1)">M7</text>
<text class="xl" transform="translate(156.39 374.9) scale(0.76 1)">M8</text>
<text class="xl" transform="translate(168.37 374.9) scale(0.76 1)">M9</text>
<text class="xl" transform="translate(180.35 374.9) scale(0.76 1)">M10</text>
<text class="xl" transform="translate(192.33 374.9) scale(0.76 1)">M11</text>
<text class="xl" transform="translate(204.31 374.9) scale(0.76 1)">M12</text>
<text class="xl" transform="translate(147.75 383.7) scale(0.76 1)">2020</text>
<path class="halo" d="M96.49 347.21C100.48 333.5 104.48 314.98 108.47 306.1C112.46 297.22 116.46 296.34 120.45 293.92C124.44 291.5 128.44 291.27 132.43 291.56C136.42 291.86 140.42 292.26 144.41 295.71C148.4 299.17 152.4 303.47 156.39 312.3C160.38 321.13 164.38 342.11 168.37 348.69C172.36 355.27 176.36 351.14 180.35 351.76C184.34 352.38 188.34 353.01 192.33 352.43C196.32 351.85 200.32 349.66 204.31 348.28"/>
<path class="ln" d="M96.49 347.21C100.48 333.5 104.48 314.98 108.47 306.1C112.46 297.22 116.46 296.34 120.45 293.92C124.44 291.5 128.44 291.27 132.43 291.56C136.42 291.86 140.42 292.26 144.41 295.71C148.4 299.17 152.4 303.47 156.39 312.3C160.38 321.13 164.38 342.11 168.37 348.69C172.36 355.27 176.36 351.14 180.35 351.76C184.34 352.38 188.34 353.01 192.33 352.43C196.32 351.85 200.32 349.66 204.31 348.28"/>
<circle cx="96.49" cy="347.21" r="1.5"/>
<circle cx="108.47" cy="306.1" r="1.5"/>
<circle cx="120.45" cy="293.92" r="1.5"/>
<circle cx="132.43" cy="291.56" r="1.5"/>
<circle cx="144.41" cy="295.71" r="1.5"/>
<circle cx="156.39" cy="312.3" r="1.5"/>
<circle cx="168.37" cy="348.69" r="1.5"/>
<circle cx="180.35" cy="351.76" r="1.5"/>
<circle cx="192.33" cy="352.43" r="1.5"/>
<circle cx="204.31" cy="348.28" r="1.5"/>
</g>
<g>
<path d="M243.2 281.8H363.4V364.6" stroke="#8c8c8c"/>
<path d="M243.2 281.8V364.6" stroke="#8c8c8c"/>
<path d="M242.7 364.6H363.9" stroke="#6a6a6a"/>
<path d="M241.4 364.2H243.2M241.4 347.82H243.2M241.4 331.44H243.2M241.4 315.06H243.2M241.4 298.68H243.2M241.4 282.3H243.2M243.8 364.6V366.2M255.78 364.6V366.2M267.76 364.6V366.2M279.74 364.6V366.2M291.72 364.6V366.2M303.7 364.6V366.2M315.68 364.6V366.2M327.66 364.6V366.2M339.64 364.6V366.2M351.62 364.6V366.2M363.6 364.6V366.2" stroke="#6a6a6a"/>
<text class="t" x="303.3" y="273.5">IE</text>
<text class="yl" transform="translate(240 366.8) scale(0.76 1)">2</text>
<text class="yl" transform="translate(240 350.42) scale(0.76 1)">3</text>
<text class="yl" transform="translate(240 334.04) scale(0.76 1)">4</text>
<text class="yl" transform="translate(240 317.66) scale(0.76 1)">5</text>
<text class="yl" transform="translate(240 301.28) scale(0.76 1)">6</text>
<text class="yl" transform="translate(240 284.9) scale(0.76 1)">7</text>
<text class="xl" transform="translate(249.79 374.9) scale(0.76 1)">M3</text>
<text class="xl" transform="translate(261.77 374.9) scale(0.76 1)">M4</text>
<text class="xl" transform="translate(273.75 374.9) scale(0.76 1)">M5</text>
<text class="xl" transform="translate(285.73 374.9) scale(0.76 1)">M6</text>
<text class="xl" transform="translate(297.71 374.9) scale(0.76 1)">M7</text>
<text class="xl" transform="translate(309.69 374.9) scale(0.76 1)">M8</text>
<text class="xl" transform="translate(321.67 374.9) scale(0.76 1)">M9</text>
<text class="xl" transform="translate(333.65 374.9) scale(0.76 1)">M10</text>
<text class="xl" transform="translate(345.63 374.9) scale(0.76 1)">M11</text>
<text class="xl" transform="translate(357.61 374.9) scale(0.76 1)">M12</text>
<text class="xl" transform="translate(301.1 383.7) scale(0.76 1)">2020</text>
<path class="halo" d="M249.79 360.76C253.78 340.07 257.78 310.72 261.77 298.68C265.76 286.64 269.76 290.84 273.75 288.52C277.74 286.2 281.74 285.22 285.73 284.76C289.72 284.29 293.72 283.97 297.71 285.74C301.7 287.51 305.7 290.65 309.69 295.4C313.68 300.15 317.68 305.89 321.67 314.24C325.66 322.59 329.66 339.55 333.65 345.53C337.64 351.51 341.64 348.31 345.63 350.11C349.62 351.92 353.62 354.26 357.61 356.34"/>
<path class="ln" d="M249.79 360.76C253.78 340.07 257.78 310.72 261.77 298.68C265.76 286.64 269.76 290.84 273.75 288.52C277.74 286.2 281.74 285.22 285.73 284.76C289.72 284.29 293.72 283.97 297.71 285.74C301.7 287.51 305.7 290.65 309.69 295.4C313.68 300.15 317.68 305.89 321.67 314.24C325.66 322.59 329.66 339.55 333.65 345.53C337.64 351.51 341.64 348.31 345.63 350.11C349.62 351.92 353.62 354.26 357.61 356.34"/>
<circle cx="249.79" cy="360.76" r="1.5"/>
<circle cx="261.77" cy="298.68" r="1.5"/>
<circle cx="273.75" cy="288.52" r="1.5"/>
<circle cx="285.73" cy="284.76" r="1.5"/>
<circle cx="297.71" cy="285.74" r="1.5"/>
<circle cx="309.69" cy="295.4" r="1.5"/>
<circle cx="321.67" cy="314.24" r="1.5"/>
<circle cx="333.65" cy="345.53" r="1.5"/>
<circle cx="345.63" cy="350.11" r="1.5"/>
<circle cx="357.61" cy="356.34" r="1.5"/>
</g>
<g>
<path d="M396.6 281.8H516.6V364.6" stroke="#8c8c8c"/>
<path d="M396.6 281.8V364.6" stroke="#8c8c8c"/>
<path d="M396.1 364.6H517.1" stroke="#6a6a6a"/>
<path d="M394.8 364.2H396.6M394.8 343.73H396.6M394.8 323.25H396.6M394.8 302.78H396.6M394.8 282.3H396.6M396.8 364.6V366.2M408.78 364.6V366.2M420.76 364.6V366.2M432.74 364.6V366.2M444.72 364.6V366.2M456.7 364.6V366.2M468.68 364.6V366.2M480.66 364.6V366.2M492.64 364.6V366.2M504.62 364.6V366.2M516.6 364.6V366.2" stroke="#6a6a6a"/>
<text class="t" x="456.6" y="273.5">IT</text>
<text class="yl" transform="translate(393.4 366.8) scale(0.76 1)">0</text>
<text class="yl" transform="translate(393.4 346.33) scale(0.76 1)">4</text>
<text class="yl" transform="translate(393.4 325.85) scale(0.76 1)">8</text>
<text class="yl" transform="translate(393.4 305.38) scale(0.76 1)">12</text>
<text class="yl" transform="translate(393.4 284.9) scale(0.76 1)">16</text>
<text class="xl" transform="translate(402.79 374.9) scale(0.76 1)">M3</text>
<text class="xl" transform="translate(414.77 374.9) scale(0.76 1)">M4</text>
<text class="xl" transform="translate(426.75 374.9) scale(0.76 1)">M5</text>
<text class="xl" transform="translate(438.73 374.9) scale(0.76 1)">M6</text>
<text class="xl" transform="translate(450.71 374.9) scale(0.76 1)">M7</text>
<text class="xl" transform="translate(462.69 374.9) scale(0.76 1)">M8</text>
<text class="xl" transform="translate(474.67 374.9) scale(0.76 1)">M9</text>
<text class="xl" transform="translate(486.65 374.9) scale(0.76 1)">M10</text>
<text class="xl" transform="translate(498.63 374.9) scale(0.76 1)">M11</text>
<text class="xl" transform="translate(510.61 374.9) scale(0.76 1)">M12</text>
<text class="xl" transform="translate(454.4 383.7) scale(0.76 1)">2020</text>
<path class="halo" d="M402.79 303.34C406.78 300.25 410.78 296.21 414.77 294.07C418.76 291.93 422.76 291.26 426.75 290.49C430.74 289.72 434.74 289.36 438.73 289.47C442.72 289.58 446.72 290.05 450.71 291.16C454.7 292.26 458.7 293.75 462.69 296.12C466.68 298.49 470.68 299 474.67 305.39C478.66 311.78 482.66 327.72 486.65 334.46C490.64 341.2 494.64 343.98 498.63 345.82C502.62 347.67 506.62 345.62 510.61 345.52"/>
<path class="ln" d="M402.79 303.34C406.78 300.25 410.78 296.21 414.77 294.07C418.76 291.93 422.76 291.26 426.75 290.49C430.74 289.72 434.74 289.36 438.73 289.47C442.72 289.58 446.72 290.05 450.71 291.16C454.7 292.26 458.7 293.75 462.69 296.12C466.68 298.49 470.68 299 474.67 305.39C478.66 311.78 482.66 327.72 486.65 334.46C490.64 341.2 494.64 343.98 498.63 345.82C502.62 347.67 506.62 345.62 510.61 345.52"/>
<circle cx="402.79" cy="303.34" r="1.5"/>
<circle cx="414.77" cy="294.07" r="1.5"/>
<circle cx="426.75" cy="290.49" r="1.5"/>
<circle cx="438.73" cy="289.47" r="1.5"/>
<circle cx="450.71" cy="291.16" r="1.5"/>
<circle cx="462.69" cy="296.12" r="1.5"/>
<circle cx="474.67" cy="305.39" r="1.5"/>
<circle cx="486.65" cy="334.46" r="1.5"/>
<circle cx="498.63" cy="345.82" r="1.5"/>
<circle cx="510.61" cy="345.52" r="1.5"/>
</g>
<g>
<path d="M550 281.8H669.8V364.6" stroke="#8c8c8c"/>
<path d="M550 281.8V364.6" stroke="#8c8c8c"/>
<path d="M549.5 364.6H670.3" stroke="#6a6a6a"/>
<path d="M548.2 364.2H550M548.2 336.9H550M548.2 309.6H550M548.2 282.3H550M550.3 364.6V366.2M562.28 364.6V366.2M574.26 364.6V366.2M586.24 364.6V366.2M598.22 364.6V366.2M610.2 364.6V366.2M622.18 364.6V366.2M634.16 364.6V366.2M646.14 364.6V366.2M658.12 364.6V366.2M670.1 364.6V366.2" stroke="#6a6a6a"/>
<text class="t" x="609.9" y="273.5">LV</text>
<text class="yl" transform="translate(546.8 366.8) scale(0.76 1)">0</text>
<text class="yl" transform="translate(546.8 339.5) scale(0.76 1)">1</text>
<text class="yl" transform="translate(546.8 312.2) scale(0.76 1)">2</text>
<text class="yl" transform="translate(546.8 284.9) scale(0.76 1)">3</text>
<text class="xl" transform="translate(556.29 374.9) scale(0.76 1)">M3</text>
<text class="xl" transform="translate(568.27 374.9) scale(0.76 1)">M4</text>
<text class="xl" transform="translate(580.25 374.9) scale(0.76 1)">M5</text>
<text class="xl" transform="translate(592.23 374.9) scale(0.76 1)">M6</text>
<text class="xl" transform="translate(604.21 374.9) scale(0.76 1)">M7</text>
<text class="xl" transform="translate(616.19 374.9) scale(0.76 1)">M8</text>
<text class="xl" transform="translate(628.17 374.9) scale(0.76 1)">M9</text>
<text class="xl" transform="translate(640.15 374.9) scale(0.76 1)">M10</text>
<text class="xl" transform="translate(652.13 374.9) scale(0.76 1)">M11</text>
<text class="xl" transform="translate(664.11 374.9) scale(0.76 1)">M12</text>
<text class="xl" transform="translate(607.7 383.7) scale(0.76 1)">2020</text>
<path class="halo" d="M556.29 364.2C560.28 348.18 564.28 326.44 568.27 316.15C572.26 305.87 576.26 306.82 580.25 302.5C584.24 298.18 588.24 291.81 592.23 290.22C596.22 288.62 600.22 291.76 604.21 292.95C608.2 294.13 612.2 294.77 616.19 297.31C620.18 299.86 624.18 302.64 628.17 308.24C632.16 313.83 636.16 327.21 640.15 330.89C644.14 334.58 648.14 331.94 652.13 330.35C656.12 328.76 660.12 324.34 664.11 321.34"/>
<path class="ln" d="M556.29 364.2C560.28 348.18 564.28 326.44 568.27 316.15C572.26 305.87 576.26 306.82 580.25 302.5C584.24 298.18 588.24 291.81 592.23 290.22C596.22 288.62 600.22 291.76 604.21 292.95C608.2 294.13 612.2 294.77 616.19 297.31C620.18 299.86 624.18 302.64 628.17 308.24C632.16 313.83 636.16 327.21 640.15 330.89C644.14 334.58 648.14 331.94 652.13 330.35C656.12 328.76 660.12 324.34 664.11 321.34"/>
<circle cx="556.29" cy="364.2" r="1.5"/>
<circle cx="568.27" cy="316.15" r="1.5"/>
<circle cx="580.25" cy="302.5" r="1.5"/>
<circle cx="592.23" cy="290.22" r="1.5"/>
<circle cx="604.21" cy="292.95" r="1.5"/>
<circle cx="616.19" cy="297.31" r="1.5"/>
<circle cx="628.17" cy="308.24" r="1.5"/>
<circle cx="640.15" cy="330.89" r="1.5"/>
<circle cx="652.13" cy="330.35" r="1.5"/>
<circle cx="664.11" cy="321.34" r="1.5"/>
</g>
<g>
<path d="M703.3 281.8H823.1V364.6" stroke="#8c8c8c"/>
<path d="M703.3 281.8V364.6" stroke="#8c8c8c"/>
<path d="M702.8 364.6H823.6" stroke="#6a6a6a"/>
<path d="M701.5 364.2H703.3M701.5 343.73H703.3M701.5 323.25H703.3M701.5 302.78H703.3M701.5 282.3H703.3M703.4 364.6V366.2M715.38 364.6V366.2M727.36 364.6V366.2M739.34 364.6V366.2M751.32 364.6V366.2M763.3 364.6V366.2M775.28 364.6V366.2M787.26 364.6V366.2M799.24 364.6V366.2M811.22 364.6V366.2M823.2 364.6V366.2" stroke="#6a6a6a"/>
<text class="t" x="763.2" y="273.5">LT</text>
<text class="yl" transform="translate(700.1 366.8) scale(0.76 1)">0</text>
<text class="yl" transform="translate(700.1 346.33) scale(0.76 1)">1</text>
<text class="yl" transform="translate(700.1 325.85) scale(0.76 1)">2</text>
<text class="yl" transform="translate(700.1 305.38) scale(0.76 1)">3</text>
<text class="yl" transform="translate(700.1 284.9) scale(0.76 1)">4</text>
<text class="xl" transform="translate(709.39 374.9) scale(0.76 1)">M3</text>
<text class="xl" transform="translate(721.37 374.9) scale(0.76 1)">M4</text>
<text class="xl" transform="translate(733.35 374.9) scale(0.76 1)">M5</text>
<text class="xl" transform="translate(745.33 374.9) scale(0.76 1)">M6</text>
<text class="xl" transform="translate(757.31 374.9) scale(0.76 1)">M7</text>
<text class="xl" transform="translate(769.29 374.9) scale(0.76 1)">M8</text>
<text class="xl" transform="translate(781.27 374.9) scale(0.76 1)">M9</text>
<text class="xl" transform="translate(793.25 374.9) scale(0.76 1)">M10</text>
<text class="xl" transform="translate(805.23 374.9) scale(0.76 1)">M11</text>
<text class="xl" transform="translate(817.21 374.9) scale(0.76 1)">M12</text>
<text class="xl" transform="translate(761 383.7) scale(0.76 1)">2020</text>
<path class="halo" d="M709.39 346.18C713.38 336.01 717.38 323.9 721.37 315.67C725.36 307.45 729.36 300.42 733.35 296.84C737.34 293.25 741.34 293.39 745.33 294.18C749.32 294.96 753.32 298.1 757.31 301.55C761.3 304.99 765.3 310.08 769.29 314.86C773.28 319.63 777.28 325.64 781.27 330.21C785.26 334.78 789.26 340.18 793.25 342.29C797.24 344.41 801.24 343.73 805.23 342.91C809.22 342.09 813.22 339.22 817.21 337.38"/>
<path class="ln" d="M709.39 346.18C713.38 336.01 717.38 323.9 721.37 315.67C725.36 307.45 729.36 300.42 733.35 296.84C737.34 293.25 741.34 293.39 745.33 294.18C749.32 294.96 753.32 298.1 757.31 301.55C761.3 304.99 765.3 310.08 769.29 314.86C773.28 319.63 777.28 325.64 781.27 330.21C785.26 334.78 789.26 340.18 793.25 342.29C797.24 344.41 801.24 343.73 805.23 342.91C809.22 342.09 813.22 339.22 817.21 337.38"/>
<circle cx="709.39" cy="346.18" r="1.5"/>
<circle cx="721.37" cy="315.67" r="1.5"/>
<circle cx="733.35" cy="296.84" r="1.5"/>
<circle cx="745.33" cy="294.18" r="1.5"/>
<circle cx="757.31" cy="301.55" r="1.5"/>
<circle cx="769.29" cy="314.86" r="1.5"/>
<circle cx="781.27" cy="330.21" r="1.5"/>
<circle cx="793.25" cy="342.29" r="1.5"/>
<circle cx="805.23" cy="342.91" r="1.5"/>
<circle cx="817.21" cy="337.38" r="1.5"/>
</g>
<g>
<path d="M856.6 281.8H976.6V364.6" stroke="#8c8c8c"/>
<path d="M856.6 281.8V364.6" stroke="#8c8c8c"/>
<path d="M856.1 364.6H977.1" stroke="#6a6a6a"/>
<path d="M854.8 364.2H856.6M854.8 347.82H856.6M854.8 331.44H856.6M854.8 315.06H856.6M854.8 298.68H856.6M854.8 282.3H856.6M856.7 364.6V366.2M868.68 364.6V366.2M880.66 364.6V366.2M892.64 364.6V366.2M904.62 364.6V366.2M916.6 364.6V366.2M928.58 364.6V366.2M940.56 364.6V366.2M952.54 364.6V366.2M964.52 364.6V366.2M976.5 364.6V366.2" stroke="#6a6a6a"/>
<text class="t" x="916.6" y="273.5">LU</text>
<text class="yl" transform="translate(853.4 366.8) scale(0.76 1)">0.8</text>
<text class="yl" transform="translate(853.4 350.42) scale(0.76 1)">1.2</text>
<text class="yl" transform="translate(853.4 334.04) scale(0.76 1)">1.6</text>
<text class="yl" transform="translate(853.4 317.66) scale(0.76 1)">2.0</text>
<text class="yl" transform="translate(853.4 301.28) scale(0.76 1)">2.4</text>
<text class="yl" transform="translate(853.4 284.9) scale(0.76 1)">2.8</text>
<text class="xl" transform="translate(862.69 374.9) scale(0.76 1)">M3</text>
<text class="xl" transform="translate(874.67 374.9) scale(0.76 1)">M4</text>
<text class="xl" transform="translate(886.65 374.9) scale(0.76 1)">M5</text>
<text class="xl" transform="translate(898.63 374.9) scale(0.76 1)">M6</text>
<text class="xl" transform="translate(910.61 374.9) scale(0.76 1)">M7</text>
<text class="xl" transform="translate(922.59 374.9) scale(0.76 1)">M8</text>
<text class="xl" transform="translate(934.57 374.9) scale(0.76 1)">M9</text>
<text class="xl" transform="translate(946.55 374.9) scale(0.76 1)">M10</text>
<text class="xl" transform="translate(958.53 374.9) scale(0.76 1)">M11</text>
<text class="xl" transform="translate(970.51 374.9) scale(0.76 1)">M12</text>
<text class="xl" transform="translate(914.4 383.7) scale(0.76 1)">2020</text>
<path class="halo" d="M862.69 353.55C866.68 335.4 870.68 310.62 874.67 299.09C878.66 287.56 882.66 285.51 886.65 284.35C890.64 283.19 894.64 284.96 898.63 292.13C902.62 299.29 906.62 322.77 910.61 327.35C914.6 331.92 918.6 317.93 922.59 319.56C926.58 321.2 930.58 330.48 934.57 337.17C938.56 343.86 942.56 356.15 946.55 359.7C950.54 363.24 954.54 359.63 958.53 358.47C962.52 357.31 966.52 354.65 970.51 352.73"/>
<path class="ln" d="M862.69 353.55C866.68 335.4 870.68 310.62 874.67 299.09C878.66 287.56 882.66 285.51 886.65 284.35C890.64 283.19 894.64 284.96 898.63 292.13C902.62 299.29 906.62 322.77 910.61 327.35C914.6 331.92 918.6 317.93 922.59 319.56C926.58 321.2 930.58 330.48 934.57 337.17C938.56 343.86 942.56 356.15 946.55 359.7C950.54 363.24 954.54 359.63 958.53 358.47C962.52 357.31 966.52 354.65 970.51 352.73"/>
<circle cx="862.69" cy="353.55" r="1.5"/>
<circle cx="874.67" cy="299.09" r="1.5"/>
<circle cx="886.65" cy="284.35" r="1.5"/>
<circle cx="898.63" cy="292.13" r="1.5"/>
<circle cx="910.61" cy="327.35" r="1.5"/>
<circle cx="922.59" cy="319.56" r="1.5"/>
<circle cx="934.57" cy="337.17" r="1.5"/>
<circle cx="946.55" cy="359.7" r="1.5"/>
<circle cx="958.53" cy="358.47" r="1.5"/>
<circle cx="970.51" cy="352.73" r="1.5"/>
</g>
<g>
<path d="M89.5 410.6H210.4V493.4" stroke="#8c8c8c"/>
<path d="M89.5 410.6V493.4" stroke="#8c8c8c"/>
<path d="M89 493.4H210.9" stroke="#6a6a6a"/>
<path d="M87.7 493H89.5M87.7 472.53H89.5M87.7 452.05H89.5M87.7 431.58H89.5M87.7 411.1H89.5M90.5 493.4V495M102.48 493.4V495M114.46 493.4V495M126.44 493.4V495M138.42 493.4V495M150.4 493.4V495M162.38 493.4V495M174.36 493.4V495M186.34 493.4V495M198.32 493.4V495M210.3 493.4V495" stroke="#6a6a6a"/>
<text class="t" x="149.95" y="402.3">MT</text>
<text class="yl" transform="translate(86.3 495.6) scale(0.76 1)">0.0</text>
<text class="yl" transform="translate(86.3 475.13) scale(0.76 1)">0.5</text>
<text class="yl" transform="translate(86.3 454.65) scale(0.76 1)">1.0</text>
<text class="yl" transform="translate(86.3 434.18) scale(0.76 1)">1.5</text>
<text class="yl" transform="translate(86.3 413.7) scale(0.76 1)">2.0</text>
<text class="xl" transform="translate(96.49 503.7) scale(0.76 1)">M3</text>
<text class="xl" transform="translate(108.47 503.7) scale(0.76 1)">M4</text>
<text class="xl" transform="translate(120.45 503.7) scale(0.76 1)">M5</text>
<text class="xl" transform="translate(132.43 503.7) scale(0.76 1)">M6</text>
<text class="xl" transform="translate(144.41 503.7) scale(0.76 1)">M7</text>
<text class="xl" transform="translate(156.39 503.7) scale(0.76 1)">M8</text>
<text class="xl" transform="translate(168.37 503.7) scale(0.76 1)">M9</text>
<text class="xl" transform="translate(180.35 503.7) scale(0.76 1)">M10</text>
<text class="xl" transform="translate(192.33 503.7) scale(0.76 1)">M11</text>
<text class="xl" transform="translate(204.31 503.7) scale(0.76 1)">M12</text>
<text class="xl" transform="translate(147.75 512.5) scale(0.76 1)">2020</text>
<path class="halo" d="M96.49 492.59C100.48 480.72 104.48 467 108.47 456.96C112.46 446.93 116.46 435.6 120.45 432.39C124.44 429.19 128.44 435.26 132.43 437.72C136.42 440.17 140.42 442.36 144.41 447.14C148.4 451.91 152.4 466.59 156.39 466.38C160.38 466.18 164.38 448.57 168.37 445.91C172.36 443.25 176.36 452.12 180.35 450.41C184.34 448.71 188.34 440.38 192.33 435.67C196.32 430.96 200.32 426.66 204.31 422.16"/>
<path class="ln" d="M96.49 492.59C100.48 480.72 104.48 467 108.47 456.96C112.46 446.93 116.46 435.6 120.45 432.39C124.44 429.19 128.44 435.26 132.43 437.72C136.42 440.17 140.42 442.36 144.41 447.14C148.4 451.91 152.4 466.59 156.39 466.38C160.38 466.18 164.38 448.57 168.37 445.91C172.36 443.25 176.36 452.12 180.35 450.41C184.34 448.71 188.34 440.38 192.33 435.67C196.32 430.96 200.32 426.66 204.31 422.16"/>
<circle cx="96.49" cy="492.59" r="1.5"/>
<circle cx="108.47" cy="456.96" r="1.5"/>
<circle cx="120.45" cy="432.39" r="1.5"/>
<circle cx="132.43" cy="437.72" r="1.5"/>
<circle cx="144.41" cy="447.14" r="1.5"/>
<circle cx="156.39" cy="466.38" r="1.5"/>
<circle cx="168.37" cy="445.91" r="1.5"/>
<circle cx="180.35" cy="450.41" r="1.5"/>
<circle cx="192.33" cy="435.67" r="1.5"/>
<circle cx="204.31" cy="422.16" r="1.5"/>
</g>
<g>
<path d="M243.2 410.6H363.4V493.4" stroke="#8c8c8c"/>
<path d="M243.2 410.6V493.4" stroke="#8c8c8c"/>
<path d="M242.7 493.4H363.9" stroke="#6a6a6a"/>
<path d="M241.4 493H243.2M241.4 472.53H243.2M241.4 452.05H243.2M241.4 431.58H243.2M241.4 411.1H243.2M243.8 493.4V495M255.78 493.4V495M267.76 493.4V495M279.74 493.4V495M291.72 493.4V495M303.7 493.4V495M315.68 493.4V495M327.66 493.4V495M339.64 493.4V495M351.62 493.4V495M363.6 493.4V495" stroke="#6a6a6a"/>
<text class="t" x="303.3" y="402.3">NL</text>
<text class="yl" transform="translate(240 495.6) scale(0.76 1)">0</text>
<text class="yl" transform="translate(240 475.13) scale(0.76 1)">4</text>
<text class="yl" transform="translate(240 454.65) scale(0.76 1)">8</text>
<text class="yl" transform="translate(240 434.18) scale(0.76 1)">12</text>
<text class="yl" transform="translate(240 413.7) scale(0.76 1)">16</text>
<text class="xl" transform="translate(249.79 503.7) scale(0.76 1)">M3</text>
<text class="xl" transform="translate(261.77 503.7) scale(0.76 1)">M4</text>
<text class="xl" transform="translate(273.75 503.7) scale(0.76 1)">M5</text>
<text class="xl" transform="translate(285.73 503.7) scale(0.76 1)">M6</text>
<text class="xl" transform="translate(297.71 503.7) scale(0.76 1)">M7</text>
<text class="xl" transform="translate(309.69 503.7) scale(0.76 1)">M8</text>
<text class="xl" transform="translate(321.67 503.7) scale(0.76 1)">M9</text>
<text class="xl" transform="translate(333.65 503.7) scale(0.76 1)">M10</text>
<text class="xl" transform="translate(345.63 503.7) scale(0.76 1)">M11</text>
<text class="xl" transform="translate(357.61 503.7) scale(0.76 1)">M12</text>
<text class="xl" transform="translate(301.1 512.5) scale(0.76 1)">2020</text>
<path class="halo" d="M249.79 450.62C253.78 443.69 257.78 433.77 261.77 429.83C265.76 425.9 269.76 426.91 273.75 427.02C277.74 427.13 281.74 429.16 285.73 430.5C289.72 431.84 293.72 431.98 297.71 435.06C301.7 438.13 305.7 443.68 309.69 448.93C313.68 454.17 317.68 461.06 321.67 466.54C325.66 472.01 329.66 478.95 333.65 481.79C337.64 484.63 341.64 483.01 345.63 483.58C349.62 484.15 353.62 484.67 357.61 485.22"/>
<path class="ln" d="M249.79 450.62C253.78 443.69 257.78 433.77 261.77 429.83C265.76 425.9 269.76 426.91 273.75 427.02C277.74 427.13 281.74 429.16 285.73 430.5C289.72 431.84 293.72 431.98 297.71 435.06C301.7 438.13 305.7 443.68 309.69 448.93C313.68 454.17 317.68 461.06 321.67 466.54C325.66 472.01 329.66 478.95 333.65 481.79C337.64 484.63 341.64 483.01 345.63 483.58C349.62 484.15 353.62 484.67 357.61 485.22"/>
<circle cx="249.79" cy="450.62" r="1.5"/>
<circle cx="261.77" cy="429.83" r="1.5"/>
<circle cx="273.75" cy="427.02" r="1.5"/>
<circle cx="285.73" cy="430.5" r="1.5"/>
<circle cx="297.71" cy="435.06" r="1.5"/>
<circle cx="309.69" cy="448.93" r="1.5"/>
<circle cx="321.67" cy="466.54" r="1.5"/>
<circle cx="333.65" cy="481.79" r="1.5"/>
<circle cx="345.63" cy="483.58" r="1.5"/>
<circle cx="357.61" cy="485.22" r="1.5"/>
</g>
<g>
<path d="M396.6 410.6H516.6V493.4" stroke="#8c8c8c"/>
<path d="M396.6 410.6V493.4" stroke="#8c8c8c"/>
<path d="M396.1 493.4H517.1" stroke="#6a6a6a"/>
<path d="M394.8 493H396.6M394.8 476.62H396.6M394.8 460.24H396.6M394.8 443.86H396.6M394.8 427.48H396.6M394.8 411.1H396.6M396.8 493.4V495M408.78 493.4V495M420.76 493.4V495M432.74 493.4V495M444.72 493.4V495M456.7 493.4V495M468.68 493.4V495M480.66 493.4V495M492.64 493.4V495M504.62 493.4V495M516.6 493.4V495" stroke="#6a6a6a"/>
<text class="t" x="456.6" y="402.3">PL</text>
<text class="yl" transform="translate(393.4 495.6) scale(0.76 1)">1</text>
<text class="yl" transform="translate(393.4 479.22) scale(0.76 1)">2</text>
<text class="yl" transform="translate(393.4 462.84) scale(0.76 1)">3</text>
<text class="yl" transform="translate(393.4 446.46) scale(0.76 1)">4</text>
<text class="yl" transform="translate(393.4 430.08) scale(0.76 1)">5</text>
<text class="yl" transform="translate(393.4 413.7) scale(0.76 1)">6</text>
<text class="xl" transform="translate(402.79 503.7) scale(0.76 1)">M3</text>
<text class="xl" transform="translate(414.77 503.7) scale(0.76 1)">M4</text>
<text class="xl" transform="translate(426.75 503.7) scale(0.76 1)">M5</text>
<text class="xl" transform="translate(438.73 503.7) scale(0.76 1)">M6</text>
<text class="xl" transform="translate(450.71 503.7) scale(0.76 1)">M7</text>
<text class="xl" transform="translate(462.69 503.7) scale(0.76 1)">M8</text>
<text class="xl" transform="translate(474.67 503.7) scale(0.76 1)">M9</text>
<text class="xl" transform="translate(486.65 503.7) scale(0.76 1)">M10</text>
<text class="xl" transform="translate(498.63 503.7) scale(0.76 1)">M11</text>
<text class="xl" transform="translate(510.61 503.7) scale(0.76 1)">M12</text>
<text class="xl" transform="translate(454.4 512.5) scale(0.76 1)">2020</text>
<path class="halo" d="M402.79 485.96C406.78 466.46 410.78 435.83 414.77 427.48C418.76 419.13 422.76 433.87 426.75 435.83C430.74 437.8 434.74 437.36 438.73 439.27C442.72 441.18 446.72 443.97 450.71 447.3C454.7 450.63 458.7 456.55 462.69 459.26C466.68 461.96 470.68 459.48 474.67 463.52C478.66 467.56 482.66 480.69 486.65 483.5C490.64 486.31 494.64 482.22 498.63 480.39C502.62 478.56 506.62 475.15 510.61 472.53"/>
<path class="ln" d="M402.79 485.96C406.78 466.46 410.78 435.83 414.77 427.48C418.76 419.13 422.76 433.87 426.75 435.83C430.74 437.8 434.74 437.36 438.73 439.27C442.72 441.18 446.72 443.97 450.71 447.3C454.7 450.63 458.7 456.55 462.69 459.26C466.68 461.96 470.68 459.48 474.67 463.52C478.66 467.56 482.66 480.69 486.65 483.5C490.64 486.31 494.64 482.22 498.63 480.39C502.62 478.56 506.62 475.15 510.61 472.53"/>
<circle cx="402.79" cy="485.96" r="1.5"/>
<circle cx="414.77" cy="427.48" r="1.5"/>
<circle cx="426.75" cy="435.83" r="1.5"/>
<circle cx="438.73" cy="439.27" r="1.5"/>
<circle cx="450.71" cy="447.3" r="1.5"/>
<circle cx="462.69" cy="459.26" r="1.5"/>
<circle cx="474.67" cy="463.52" r="1.5"/>
<circle cx="486.65" cy="483.5" r="1.5"/>
<circle cx="498.63" cy="480.39" r="1.5"/>
<circle cx="510.61" cy="472.53" r="1.5"/>
</g>
<g>
<path d="M550 410.6H669.8V493.4" stroke="#8c8c8c"/>
<path d="M550 410.6V493.4" stroke="#8c8c8c"/>
<path d="M549.5 493.4H670.3" stroke="#6a6a6a"/>
<path d="M548.2 493H550M548.2 472.53H550M548.2 452.05H550M548.2 431.58H550M548.2 411.1H550M550.3 493.4V495M562.28 493.4V495M574.26 493.4V495M586.24 493.4V495M598.22 493.4V495M610.2 493.4V495M622.18 493.4V495M634.16 493.4V495M646.14 493.4V495M658.12 493.4V495M670.1 493.4V495" stroke="#6a6a6a"/>
<text class="t" x="609.9" y="402.3">PT</text>
<text class="yl" transform="translate(546.8 495.6) scale(0.76 1)">1</text>
<text class="yl" transform="translate(546.8 475.13) scale(0.76 1)">2</text>
<text class="yl" transform="translate(546.8 454.65) scale(0.76 1)">3</text>
<text class="yl" transform="translate(546.8 434.18) scale(0.76 1)">4</text>
<text class="yl" transform="translate(546.8 413.7) scale(0.76 1)">5</text>
<text class="xl" transform="translate(556.29 503.7) scale(0.76 1)">M3</text>
<text class="xl" transform="translate(568.27 503.7) scale(0.76 1)">M4</text>
<text class="xl" transform="translate(580.25 503.7) scale(0.76 1)">M5</text>
<text class="xl" transform="translate(592.23 503.7) scale(0.76 1)">M6</text>
<text class="xl" transform="translate(604.21 503.7) scale(0.76 1)">M7</text>
<text class="xl" transform="translate(616.19 503.7) scale(0.76 1)">M8</text>
<text class="xl" transform="translate(628.17 503.7) scale(0.76 1)">M9</text>
<text class="xl" transform="translate(640.15 503.7) scale(0.76 1)">M10</text>
<text class="xl" transform="translate(652.13 503.7) scale(0.76 1)">M11</text>
<text class="xl" transform="translate(664.11 503.7) scale(0.76 1)">M12</text>
<text class="xl" transform="translate(607.7 512.5) scale(0.76 1)">2020</text>
<path class="halo" d="M556.29 469.25C560.28 456.96 564.28 439.94 568.27 432.39C572.26 424.85 576.26 423.35 580.25 424C584.24 424.65 588.24 433.04 592.23 436.28C596.22 439.53 600.22 441.4 604.21 443.45C608.2 445.5 612.2 445.91 616.19 448.57C620.18 451.23 624.18 454.75 628.17 459.42C632.16 464.1 636.16 472.83 640.15 476.62C644.14 480.41 648.14 481.74 652.13 482.15C656.12 482.56 660.12 480.1 664.11 479.08"/>
<path class="ln" d="M556.29 469.25C560.28 456.96 564.28 439.94 568.27 432.39C572.26 424.85 576.26 423.35 580.25 424C584.24 424.65 588.24 433.04 592.23 436.28C596.22 439.53 600.22 441.4 604.21 443.45C608.2 445.5 612.2 445.91 616.19 448.57C620.18 451.23 624.18 454.75 628.17 459.42C632.16 464.1 636.16 472.83 640.15 476.62C644.14 480.41 648.14 481.74 652.13 482.15C656.12 482.56 660.12 480.1 664.11 479.08"/>
<circle cx="556.29" cy="469.25" r="1.5"/>
<circle cx="568.27" cy="432.39" r="1.5"/>
<circle cx="580.25" cy="424" r="1.5"/>
<circle cx="592.23" cy="436.28" r="1.5"/>
<circle cx="604.21" cy="443.45" r="1.5"/>
<circle cx="616.19" cy="448.57" r="1.5"/>
<circle cx="628.17" cy="459.42" r="1.5"/>
<circle cx="640.15" cy="476.62" r="1.5"/>
<circle cx="652.13" cy="482.15" r="1.5"/>
<circle cx="664.11" cy="479.08" r="1.5"/>
</g>
<g>
<path d="M703.3 410.6H823.1V493.4" stroke="#8c8c8c"/>
<path d="M703.3 410.6V493.4" stroke="#8c8c8c"/>
<path d="M702.8 493.4H823.6" stroke="#6a6a6a"/>
<path d="M701.5 493H703.3M701.5 476.62H703.3M701.5 460.24H703.3M701.5 443.86H703.3M701.5 427.48H703.3M701.5 411.1H703.3M703.4 493.4V495M715.38 493.4V495M727.36 493.4V495M739.34 493.4V495M751.32 493.4V495M763.3 493.4V495M775.28 493.4V495M787.26 493.4V495M799.24 493.4V495M811.22 493.4V495M823.2 493.4V495" stroke="#6a6a6a"/>
<text class="t" x="763.2" y="402.3">RO</text>
<text class="yl" transform="translate(700.1 495.6) scale(0.76 1)">2</text>
<text class="yl" transform="translate(700.1 479.22) scale(0.76 1)">3</text>
<text class="yl" transform="translate(700.1 462.84) scale(0.76 1)">4</text>
<text class="yl" transform="translate(700.1 446.46) scale(0.76 1)">5</text>
<text class="yl" transform="translate(700.1 430.08) scale(0.76 1)">6</text>
<text class="yl" transform="translate(700.1 413.7) scale(0.76 1)">7</text>
<text class="xl" transform="translate(709.39 503.7) scale(0.76 1)">M3</text>
<text class="xl" transform="translate(721.37 503.7) scale(0.76 1)">M4</text>
<text class="xl" transform="translate(733.35 503.7) scale(0.76 1)">M5</text>
<text class="xl" transform="translate(745.33 503.7) scale(0.76 1)">M6</text>
<text class="xl" transform="translate(757.31 503.7) scale(0.76 1)">M7</text>
<text class="xl" transform="translate(769.29 503.7) scale(0.76 1)">M8</text>
<text class="xl" transform="translate(781.27 503.7) scale(0.76 1)">M9</text>
<text class="xl" transform="translate(793.25 503.7) scale(0.76 1)">M10</text>
<text class="xl" transform="translate(805.23 503.7) scale(0.76 1)">M11</text>
<text class="xl" transform="translate(817.21 503.7) scale(0.76 1)">M12</text>
<text class="xl" transform="translate(761 512.5) scale(0.76 1)">2020</text>
<path class="halo" d="M709.39 465.81C713.38 453.63 717.38 437.36 721.37 429.28C725.36 421.2 729.36 417.98 733.35 417.32C737.34 416.67 741.34 419.89 745.33 425.35C749.32 430.81 753.32 444.71 757.31 450.08C761.3 455.46 765.3 455.44 769.29 457.62C773.28 459.8 777.28 459.78 781.27 463.19C785.26 466.6 789.26 474.24 793.25 478.09C797.24 481.94 801.24 485.25 805.23 486.28C809.22 487.32 813.22 484.97 817.21 484.32"/>
<path class="ln" d="M709.39 465.81C713.38 453.63 717.38 437.36 721.37 429.28C725.36 421.2 729.36 417.98 733.35 417.32C737.34 416.67 741.34 419.89 745.33 425.35C749.32 430.81 753.32 444.71 757.31 450.08C761.3 455.46 765.3 455.44 769.29 457.62C773.28 459.8 777.28 459.78 781.27 463.19C785.26 466.6 789.26 474.24 793.25 478.09C797.24 481.94 801.24 485.25 805.23 486.28C809.22 487.32 813.22 484.97 817.21 484.32"/>
<circle cx="709.39" cy="465.81" r="1.5"/>
<circle cx="721.37" cy="429.28" r="1.5"/>
<circle cx="733.35" cy="417.32" r="1.5"/>
<circle cx="745.33" cy="425.35" r="1.5"/>
<circle cx="757.31" cy="450.08" r="1.5"/>
<circle cx="769.29" cy="457.62" r="1.5"/>
<circle cx="781.27" cy="463.19" r="1.5"/>
<circle cx="793.25" cy="478.09" r="1.5"/>
<circle cx="805.23" cy="486.28" r="1.5"/>
<circle cx="817.21" cy="484.32" r="1.5"/>
</g>
<g>
<path d="M856.6 410.6H976.6V493.4" stroke="#8c8c8c"/>
<path d="M856.6 410.6V493.4" stroke="#8c8c8c"/>
<path d="M856.1 493.4H977.1" stroke="#6a6a6a"/>
<path d="M854.8 493H856.6M854.8 472.53H856.6M854.8 452.05H856.6M854.8 431.58H856.6M854.8 411.1H856.6M856.7 493.4V495M868.68 493.4V495M880.66 493.4V495M892.64 493.4V495M904.62 493.4V495M916.6 493.4V495M928.58 493.4V495M940.56 493.4V495M952.54 493.4V495M964.52 493.4V495M976.5 493.4V495" stroke="#6a6a6a"/>
<text class="t" x="916.6" y="402.3">SK</text>
<text class="yl" transform="translate(853.4 495.6) scale(0.76 1)">0.0</text>
<text class="yl" transform="translate(853.4 475.13) scale(0.76 1)">0.5</text>
<text class="yl" transform="translate(853.4 454.65) scale(0.76 1)">1.0</text>
<text class="yl" transform="translate(853.4 434.18) scale(0.76 1)">1.5</text>
<text class="yl" transform="translate(853.4 413.7) scale(0.76 1)">2.0</text>
<text class="xl" transform="translate(862.69 503.7) scale(0.76 1)">M3</text>
<text class="xl" transform="translate(874.67 503.7) scale(0.76 1)">M4</text>
<text class="xl" transform="translate(886.65 503.7) scale(0.76 1)">M5</text>
<text class="xl" transform="translate(898.63 503.7) scale(0.76 1)">M6</text>
<text class="xl" transform="translate(910.61 503.7) scale(0.76 1)">M7</text>
<text class="xl" transform="translate(922.59 503.7) scale(0.76 1)">M8</text>
<text class="xl" transform="translate(934.57 503.7) scale(0.76 1)">M9</text>
<text class="xl" transform="translate(946.55 503.7) scale(0.76 1)">M10</text>
<text class="xl" transform="translate(958.53 503.7) scale(0.76 1)">M11</text>
<text class="xl" transform="translate(970.51 503.7) scale(0.76 1)">M12</text>
<text class="xl" transform="translate(914.4 512.5) scale(0.76 1)">2020</text>
<path class="halo" d="M862.69 493C866.68 470.48 870.68 438.06 874.67 425.43C878.66 412.81 882.66 417.58 886.65 417.24C890.64 416.9 894.64 419.49 898.63 423.39C902.62 427.28 906.62 434.78 910.61 440.58C914.6 446.39 918.6 452.73 922.59 458.19C926.58 463.65 930.58 470.14 934.57 473.34C938.56 476.55 942.56 479.62 946.55 477.44C950.54 475.25 954.54 465.84 958.53 460.24C962.52 454.64 966.52 449.32 970.51 443.86"/>
<path class="ln" d="M862.69 493C866.68 470.48 870.68 438.06 874.67 425.43C878.66 412.81 882.66 417.58 886.65 417.24C890.64 416.9 894.64 419.49 898.63 423.39C902.62 427.28 906.62 434.78 910.61 440.58C914.6 446.39 918.6 452.73 922.59 458.19C926.58 463.65 930.58 470.14 934.57 473.34C938.56 476.55 942.56 479.62 946.55 477.44C950.54 475.25 954.54 465.84 958.53 460.24C962.52 454.64 966.52 449.32 970.51 443.86"/>
<circle cx="862.69" cy="493" r="1.5"/>
<circle cx="874.67" cy="425.43" r="1.5"/>
<circle cx="886.65" cy="417.24" r="1.5"/>
<circle cx="898.63" cy="423.39" r="1.5"/>
<circle cx="910.61" cy="440.58" r="1.5"/>
<circle cx="922.59" cy="458.19" r="1.5"/>
<circle cx="934.57" cy="473.34" r="1.5"/>
<circle cx="946.55" cy="477.44" r="1.5"/>
<circle cx="958.53" cy="460.24" r="1.5"/>
<circle cx="970.51" cy="443.86" r="1.5"/>
</g>
<g>
<path d="M89.5 539.2H210.4V622" stroke="#8c8c8c"/>
<path d="M89.5 539.2V622" stroke="#8c8c8c"/>
<path d="M89 622H210.9" stroke="#6a6a6a"/>
<path d="M87.7 621.6H89.5M87.7 601.12H89.5M87.7 580.65H89.5M87.7 560.18H89.5M87.7 539.7H89.5M90.5 622V623.6M102.48 622V623.6M114.46 622V623.6M126.44 622V623.6M138.42 622V623.6M150.4 622V623.6M162.38 622V623.6M174.36 622V623.6M186.34 622V623.6M198.32 622V623.6M210.3 622V623.6" stroke="#6a6a6a"/>
<text class="t" x="149.95" y="530.9">SI</text>
<text class="yl" transform="translate(86.3 624.2) scale(0.76 1)">0</text>
<text class="yl" transform="translate(86.3 603.73) scale(0.76 1)">2</text>
<text class="yl" transform="translate(86.3 583.25) scale(0.76 1)">4</text>
<text class="yl" transform="translate(86.3 562.78) scale(0.76 1)">6</text>
<text class="yl" transform="translate(86.3 542.3) scale(0.76 1)">8</text>
<text class="xl" transform="translate(96.49 632.3) scale(0.76 1)">M3</text>
<text class="xl" transform="translate(108.47 632.3) scale(0.76 1)">M4</text>
<text class="xl" transform="translate(120.45 632.3) scale(0.76 1)">M5</text>
<text class="xl" transform="translate(132.43 632.3) scale(0.76 1)">M6</text>
<text class="xl" transform="translate(144.41 632.3) scale(0.76 1)">M7</text>
<text class="xl" transform="translate(156.39 632.3) scale(0.76 1)">M8</text>
<text class="xl" transform="translate(168.37 632.3) scale(0.76 1)">M9</text>
<text class="xl" transform="translate(180.35 632.3) scale(0.76 1)">M10</text>
<text class="xl" transform="translate(192.33 632.3) scale(0.76 1)">M11</text>
<text class="xl" transform="translate(204.31 632.3) scale(0.76 1)">M12</text>
<text class="xl" transform="translate(147.75 641.1) scale(0.76 1)">2020</text>
<path class="halo" d="M96.49 601.53C100.48 586.31 104.48 565.14 108.47 555.88C112.46 546.61 116.46 546.93 120.45 545.94C124.44 544.96 128.44 546.83 132.43 549.94C136.42 553.04 140.42 560.64 144.41 564.58C148.4 568.52 152.4 568.62 156.39 573.59C160.38 578.55 164.38 588.09 168.37 594.37C172.36 600.65 176.36 610.07 180.35 611.26C184.34 612.45 188.34 603.67 192.33 601.53C196.32 599.4 200.32 599.49 204.31 598.46"/>
<path class="ln" d="M96.49 601.53C100.48 586.31 104.48 565.14 108.47 555.88C112.46 546.61 116.46 546.93 120.45 545.94C124.44 544.96 128.44 546.83 132.43 549.94C136.42 553.04 140.42 560.64 144.41 564.58C148.4 568.52 152.4 568.62 156.39 573.59C160.38 578.55 164.38 588.09 168.37 594.37C172.36 600.65 176.36 610.07 180.35 611.26C184.34 612.45 188.34 603.67 192.33 601.53C196.32 599.4 200.32 599.49 204.31 598.46"/>
<circle cx="96.49" cy="601.53" r="1.5"/>
<circle cx="108.47" cy="555.88" r="1.5"/>
<circle cx="120.45" cy="545.94" r="1.5"/>
<circle cx="132.43" cy="549.94" r="1.5"/>
<circle cx="144.41" cy="564.58" r="1.5"/>
<circle cx="156.39" cy="573.59" r="1.5"/>
<circle cx="168.37" cy="594.37" r="1.5"/>
<circle cx="180.35" cy="611.26" r="1.5"/>
<circle cx="192.33" cy="601.53" r="1.5"/>
<circle cx="204.31" cy="598.46" r="1.5"/>
</g>
<g>
<path d="M243.2 539.2H363.4V622" stroke="#8c8c8c"/>
<path d="M243.2 539.2V622" stroke="#8c8c8c"/>
<path d="M242.7 622H363.9" stroke="#6a6a6a"/>
<path d="M241.4 621.6H243.2M241.4 605.22H243.2M241.4 588.84H243.2M241.4 572.46H243.2M241.4 556.08H243.2M241.4 539.7H243.2M243.8 622V623.6M255.78 622V623.6M267.76 622V623.6M279.74 622V623.6M291.72 622V623.6M303.7 622V623.6M315.68 622V623.6M327.66 622V623.6M339.64 622V623.6M351.62 622V623.6M363.6 622V623.6" stroke="#6a6a6a"/>
<text class="t" x="303.3" y="530.9">ES</text>
<text class="yl" transform="translate(240 624.2) scale(0.76 1)">2</text>
<text class="yl" transform="translate(240 607.82) scale(0.76 1)">4</text>
<text class="yl" transform="translate(240 591.44) scale(0.76 1)">6</text>
<text class="yl" transform="translate(240 575.06) scale(0.76 1)">8</text>
<text class="yl" transform="translate(240 558.68) scale(0.76 1)">10</text>
<text class="yl" transform="translate(240 542.3) scale(0.76 1)">12</text>
<text class="xl" transform="translate(249.79 632.3) scale(0.76 1)">M3</text>
<text class="xl" transform="translate(261.77 632.3) scale(0.76 1)">M4</text>
<text class="xl" transform="translate(273.75 632.3) scale(0.76 1)">M5</text>
<text class="xl" transform="translate(285.73 632.3) scale(0.76 1)">M6</text>
<text class="xl" transform="translate(297.71 632.3) scale(0.76 1)">M7</text>
<text class="xl" transform="translate(309.69 632.3) scale(0.76 1)">M8</text>
<text class="xl" transform="translate(321.67 632.3) scale(0.76 1)">M9</text>
<text class="xl" transform="translate(333.65 632.3) scale(0.76 1)">M10</text>
<text class="xl" transform="translate(345.63 632.3) scale(0.76 1)">M11</text>
<text class="xl" transform="translate(357.61 632.3) scale(0.76 1)">M12</text>
<text class="xl" transform="translate(301.1 641.1) scale(0.76 1)">2020</text>
<path class="halo" d="M249.79 565.58C253.78 558.32 257.78 547.19 261.77 543.8C265.76 540.4 269.76 545.02 273.75 545.19C277.74 545.35 281.74 542.78 285.73 544.78C289.72 546.77 293.72 550.2 297.71 557.14C301.7 564.09 305.7 578.75 309.69 586.46C313.68 594.18 317.68 599.01 321.67 603.42C325.66 607.83 329.66 610.97 333.65 612.92C337.64 614.87 341.64 614.65 345.63 615.13C349.62 615.61 353.62 615.57 357.61 615.79"/>
<path class="ln" d="M249.79 565.58C253.78 558.32 257.78 547.19 261.77 543.8C265.76 540.4 269.76 545.02 273.75 545.19C277.74 545.35 281.74 542.78 285.73 544.78C289.72 546.77 293.72 550.2 297.71 557.14C301.7 564.09 305.7 578.75 309.69 586.46C313.68 594.18 317.68 599.01 321.67 603.42C325.66 607.83 329.66 610.97 333.65 612.92C337.64 614.87 341.64 614.65 345.63 615.13C349.62 615.61 353.62 615.57 357.61 615.79"/>
<circle cx="249.79" cy="565.58" r="1.5"/>
<circle cx="261.77" cy="543.8" r="1.5"/>
<circle cx="273.75" cy="545.19" r="1.5"/>
<circle cx="285.73" cy="544.78" r="1.5"/>
<circle cx="297.71" cy="557.14" r="1.5"/>
<circle cx="309.69" cy="586.46" r="1.5"/>
<circle cx="321.67" cy="603.42" r="1.5"/>
<circle cx="333.65" cy="612.92" r="1.5"/>
<circle cx="345.63" cy="615.13" r="1.5"/>
<circle cx="357.61" cy="615.79" r="1.5"/>
</g>
<g>
<path d="M396.6 539.2H516.6V622" stroke="#8c8c8c"/>
<path d="M396.6 539.2V622" stroke="#8c8c8c"/>
<path d="M396.1 622H517.1" stroke="#6a6a6a"/>
<path d="M394.8 621.6H396.6M394.8 601.12H396.6M394.8 580.65H396.6M394.8 560.18H396.6M394.8 539.7H396.6M396.8 622V623.6M408.78 622V623.6M420.76 622V623.6M432.74 622V623.6M444.72 622V623.6M456.7 622V623.6M468.68 622V623.6M480.66 622V623.6M492.64 622V623.6M504.62 622V623.6M516.6 622V623.6" stroke="#6a6a6a"/>
<text class="t" x="456.6" y="530.9">SE</text>
<text class="yl" transform="translate(393.4 624.2) scale(0.76 1)">0</text>
<text class="yl" transform="translate(393.4 603.73) scale(0.76 1)">4</text>
<text class="yl" transform="translate(393.4 583.25) scale(0.76 1)">8</text>
<text class="yl" transform="translate(393.4 562.78) scale(0.76 1)">12</text>
<text class="yl" transform="translate(393.4 542.3) scale(0.76 1)">16</text>
<text class="xl" transform="translate(402.79 632.3) scale(0.76 1)">M3</text>
<text class="xl" transform="translate(414.77 632.3) scale(0.76 1)">M4</text>
<text class="xl" transform="translate(426.75 632.3) scale(0.76 1)">M5</text>
<text class="xl" transform="translate(438.73 632.3) scale(0.76 1)">M6</text>
<text class="xl" transform="translate(450.71 632.3) scale(0.76 1)">M7</text>
<text class="xl" transform="translate(462.69 632.3) scale(0.76 1)">M8</text>
<text class="xl" transform="translate(474.67 632.3) scale(0.76 1)">M9</text>
<text class="xl" transform="translate(486.65 632.3) scale(0.76 1)">M10</text>
<text class="xl" transform="translate(498.63 632.3) scale(0.76 1)">M11</text>
<text class="xl" transform="translate(510.61 632.3) scale(0.76 1)">M12</text>
<text class="xl" transform="translate(454.4 641.1) scale(0.76 1)">2020</text>
<path class="halo" d="M402.79 580.6C406.78 573.72 410.78 562.88 414.77 559.97C418.76 557.06 422.76 559.64 426.75 563.14C430.74 566.65 434.74 577.64 438.73 581.01C442.72 584.38 446.72 582.56 450.71 583.36C454.7 584.16 458.7 584.99 462.69 585.82C466.68 586.65 470.68 586.49 474.67 588.33C478.66 590.16 482.66 593.69 486.65 596.83C490.64 599.96 494.64 604.8 498.63 607.17C502.62 609.53 506.62 609.72 510.61 611"/>
<path class="ln" d="M402.79 580.6C406.78 573.72 410.78 562.88 414.77 559.97C418.76 557.06 422.76 559.64 426.75 563.14C430.74 566.65 434.74 577.64 438.73 581.01C442.72 584.38 446.72 582.56 450.71 583.36C454.7 584.16 458.7 584.99 462.69 585.82C466.68 586.65 470.68 586.49 474.67 588.33C478.66 590.16 482.66 593.69 486.65 596.83C490.64 599.96 494.64 604.8 498.63 607.17C502.62 609.53 506.62 609.72 510.61 611"/>
<circle cx="402.79" cy="580.6" r="1.5"/>
<circle cx="414.77" cy="559.97" r="1.5"/>
<circle cx="426.75" cy="563.14" r="1.5"/>
<circle cx="438.73" cy="581.01" r="1.5"/>
<circle cx="450.71" cy="583.36" r="1.5"/>
<circle cx="462.69" cy="585.82" r="1.5"/>
<circle cx="474.67" cy="588.33" r="1.5"/>
<circle cx="486.65" cy="596.83" r="1.5"/>
<circle cx="498.63" cy="607.17" r="1.5"/>
<circle cx="510.61" cy="611" r="1.5"/>
</g>
<path d="M322.6 725.3L317.6 742.6" style="stroke:#2a2a2a;stroke-width:.75"/>
</svg>
<div class="cap annex" id="annex1">Annex 1. Mortality rate in EU</div>
<div class="cap annex" id="annex2">(2020M03-2020M12)</div>
<div class="cap" id="source"><b>Source:</b> Authors&#8217; own calculations in Eviews 9.0 based on Our World in Data statistics</div>
</body>
</html>
